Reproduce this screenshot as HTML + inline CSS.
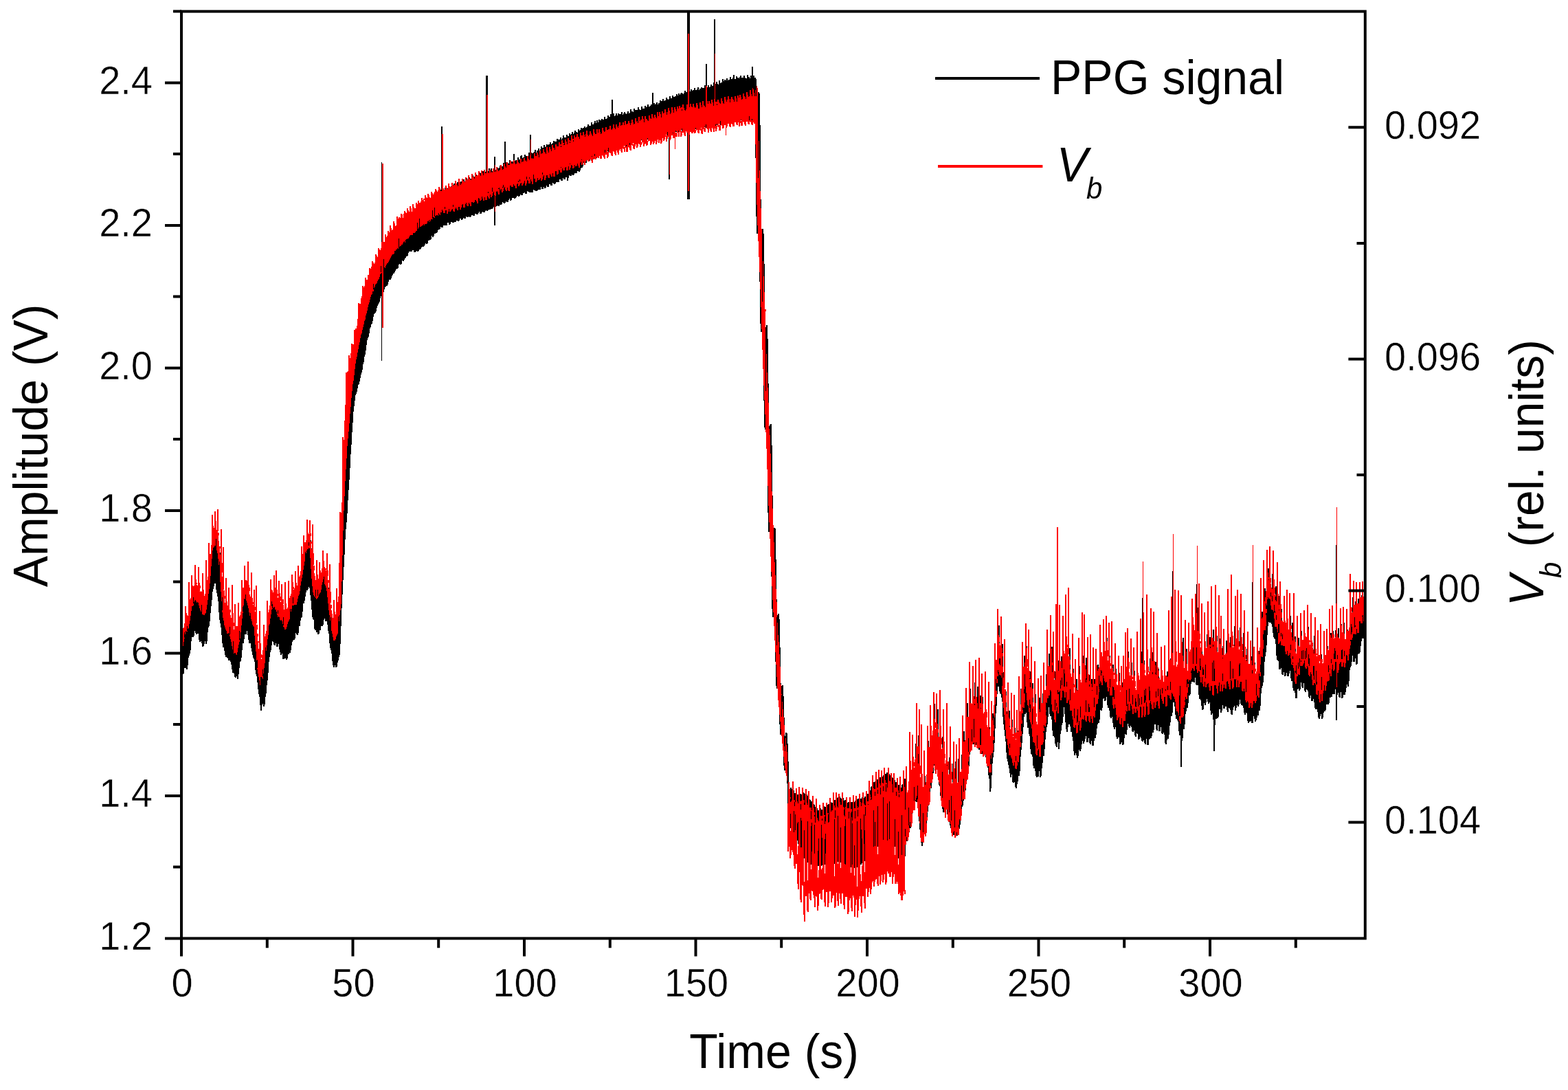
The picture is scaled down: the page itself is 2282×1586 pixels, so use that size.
<!DOCTYPE html>
<html><head><meta charset="utf-8"><title>PPG signal and V_b vs time</title>
<style>
html,body{margin:0;padding:0;background:#fff;overflow:hidden;}
svg{display:block;}
text{font-family:"Liberation Sans",Arial,sans-serif;fill:#000;}
.tl text{stroke:#fff;stroke-width:0.45px;paint-order:fill stroke;}
</style></head><body>
<svg width="2282" height="1586" viewBox="0 0 2282 1586">
<rect width="2282" height="1586" fill="#fff"/>
<g shape-rendering="crispEdges" fill="none">
<path d="M265.0 929.5V975.6M266.0 928.1V980.6M267.0 922.8V979.7M268.0 917.0V971.2M269.0 911.5V972.0M270.0 906.2V972.0M271.0 905.6V972.0M272.0 904.4V973.7M273.0 903.5V968.2M274.0 902.1V956.9M275.0 895.0V953.8M276.0 888.0V951.0M277.0 881.1V946.0M278.0 876.2V933.4M279.0 867.9V927.2M280.0 865.5V924.9M281.0 864.4V926.5M282.0 862.3V924.7M283.0 859.1V918.4M284.0 856.7V915.0M285.0 856.0V921.2M286.0 857.4V923.1M287.0 857.5V922.1M288.0 858.9V919.5M289.0 860.2V921.6M290.0 862.0V931.3M291.0 863.7V933.8M292.0 866.2V932.4M293.0 869.1V933.0M294.0 871.3V935.5M295.0 873.7V941.1M296.0 873.7V939.6M297.0 874.3V936.6M298.0 873.8V932.0M299.0 874.2V933.0M300.0 869.3V936.7M301.0 863.1V932.6M302.0 855.8V919.9M303.0 847.9V913.0M304.0 840.3V910.8M305.0 831.9V903.5M306.0 821.3V892.3M307.0 808.8V882.2M308.0 798.8V872.8M309.0 788.7V861.0M310.0 784.0V856.9M311.0 780.7V853.4M312.0 777.7V847.5M313.0 778.0V848.7M314.0 776.2V848.8M315.0 776.8V857.6M316.0 778.6V862.7M317.0 780.5V868.2M318.0 786.6V874.5M319.0 795.2V890.9M320.0 804.3V901.5M321.0 816.7V906.7M322.0 829.6V912.6M323.0 841.1V923.5M324.0 854.8V936.2M325.0 867.8V942.2M326.0 875.8V942.4M327.0 881.8V946.8M328.0 886.2V952.8M329.0 890.6V956.2M330.0 893.8V951.5M331.0 895.9V957.2M332.0 898.2V957.6M333.0 898.9V960.8M334.0 900.2V960.9M335.0 900.3V956.3M336.0 903.9V962.8M337.0 906.4V967.3M338.0 913.3V974.0M339.0 915.8V979.0M340.0 922.5V978.8M341.0 925.3V980.2M342.0 925.5V985.1M343.0 926.6V986.0M344.0 927.3V980.5M345.0 927.1V984.4M346.0 922.1V987.7M347.0 919.3V981.1M348.0 912.9V971.9M349.0 909.5V963.1M350.0 903.7V962.0M351.0 893.3V956.6M352.0 884.4V945.6M353.0 876.1V935.6M354.0 866.4V935.9M355.0 859.2V930.2M356.0 857.5V917.7M357.0 857.3V923.1M358.0 854.8V923.4M359.0 853.3V916.4M360.0 853.6V918.3M361.0 858.2V923.9M362.0 863.0V931.4M363.0 867.5V935.7M364.0 873.4V933.1M365.0 877.2V936.3M366.0 880.7V943.4M367.0 883.2V947.7M368.0 885.7V953.3M369.0 890.8V957.0M370.0 891.9V958.8M371.0 896.1V962.6M372.0 906.0V975.0M373.0 916.3V981.3M374.0 926.3V983.9M375.0 936.5V993.2M376.0 946.6V1003.2M377.0 952.0V1010.2M378.0 959.1V1013.6M379.0 964.6V1025.5M380.0 969.3V1033.9M381.0 969.8V1026.3M382.0 964.7V1023.9M383.0 958.2V1023.3M384.0 950.0V1027.6M385.0 945.6V1025.0M386.0 936.8V1014.4M387.0 930.4V1009.1M388.0 922.8V997.0M389.0 916.3V990.2M390.0 909.3V978.6M391.0 900.7V962.5M392.0 894.4V956.4M393.0 886.3V949.4M394.0 880.3V946.0M395.0 871.2V939.3M396.0 871.5V927.9M397.0 870.1V932.7M398.0 869.3V934.0M399.0 868.7V938.1M400.0 865.8V938.8M401.0 866.2V936.4M402.0 867.9V931.8M403.0 870.6V941.0M404.0 873.4V940.6M405.0 875.4V934.8M406.0 879.0V936.8M407.0 879.5V944.6M408.0 881.3V949.3M409.0 880.9V952.9M410.0 882.9V950.1M411.0 883.6V950.6M412.0 886.7V958.9M413.0 889.1V959.1M414.0 891.9V956.1M415.0 896.5V957.5M416.0 897.6V958.0M417.0 894.2V959.5M418.0 892.5V958.4M419.0 890.0V949.1M420.0 889.0V951.6M421.0 884.2V949.9M422.0 880.6V950.1M423.0 874.7V946.2M424.0 871.2V938.6M425.0 865.5V933.6M426.0 864.5V931.7M427.0 863.8V928.7M428.0 863.2V931.1M429.0 863.3V929.4M430.0 862.9V921.4M431.0 863.1V919.5M432.0 858.6V922.8M433.0 858.0V923.7M434.0 853.3V921.0M435.0 851.8V911.2M436.0 845.7V911.4M437.0 840.3V902.9M438.0 834.7V899.1M439.0 827.9V897.5M440.0 821.4V890.1M441.0 815.3V878.4M442.0 811.1V878.4M443.0 804.6V874.1M444.0 798.0V867.7M445.0 792.4V862.4M446.0 789.4V858.2M447.0 787.4V859.1M448.0 786.7V857.4M449.0 784.7V853.9M450.0 781.9V850.1M451.0 781.6V856.4M452.0 786.1V866.3M453.0 797.6V873.8M454.0 810.0V887.2M455.0 820.4V897.8M456.0 830.9V900.5M457.0 840.6V902.4M458.0 844.4V915.0M459.0 847.4V917.2M460.0 850.0V916.0M461.0 854.1V920.2M462.0 855.7V917.4M463.0 852.5V922.9M464.0 850.5V921.9M465.0 848.5V914.0M466.0 845.9V917.1M467.0 841.5V910.8M468.0 839.1V908.5M469.0 835.6V911.0M470.0 829.4V908.9M471.0 826.6V902.1M472.0 827.6V899.5M473.0 831.1V898.1M474.0 834.4V903.5M475.0 837.2V903.4M476.0 841.0V903.9M477.0 844.5V909.4M478.0 854.7V918.2M479.0 864.3V922.1M480.0 873.7V935.5M481.0 883.2V943.0M482.0 891.1V945.8M483.0 896.2V951.0M484.0 900.1V961.6M485.0 904.8V967.7M486.0 908.5V970.7M487.0 912.2V968.3M488.0 908.9V965.7M489.0 907.9V971.0M490.0 906.1V970.1M491.0 903.4V964.0M492.0 892.8V960.9M493.0 880.7V956.2M494.0 861.8V952.6M495.0 848.4V937.0M496.0 836.0V910.5M497.0 806.2V884.8M498.0 772.7V865.3M499.0 739.7V844.1M500.0 712.2V825.0M501.0 689.2V807.0M502.0 666.3V785.2M503.0 646.8V769.8M504.0 623.9V759.5M505.0 609.8V746.5M506.0 600.7V727.7M507.0 590.0V713.3M508.0 582.1V698.0M509.0 572.4V680.9M510.0 564.1V660.7M511.0 556.2V646.7M512.0 547.5V628.9M513.0 537.7V615.4M514.0 531.9V599.4M515.0 524.5V591.0M516.0 519.3V582.5M517.0 511.2V575.2M518.0 507.1V572.8M519.0 501.8V569.9M520.0 497.1V564.7M521.0 489.5V560.1M522.0 485.5V559.2M523.0 478.6V555.3M524.0 474.1V549.5M525.0 469.0V545.3M526.0 462.2V542.0M527.0 459.9V537.9M528.0 455.5V529.9M529.0 452.7V527.2M530.0 447.8V519.4M531.0 446.2V515.8M532.0 440.7V509.9M533.0 438.0V501.7M534.0 434.7V495.2M535.0 429.9V491.5M536.0 425.5V489.5M537.0 422.4V485.4M538.0 419.7V478.2M539.0 416.1V475.7M540.0 414.6V472.0M541.0 411.7V470.7M542.0 410.6V466.9M543.0 406.9V461.1M544.0 405.3V457.3M545.0 402.6V456.2M546.0 401.7V455.0M547.0 399.8V452.9M548.0 396.7V447.7M549.0 395.3V444.7M550.0 391.7V443.2M551.0 391.4V441.2M552.0 388.2V438.7M553.0 386.2V433.9M554.0 383.5V430.7M555.0 381.8V427.8M556.0 380.5V426.3M557.0 377.8V426.6M558.0 377.8V424.8M559.0 374.7V420.8M560.0 374.1V418.2M561.0 372.1V417.2M562.0 371.6V415.4M563.0 369.9V415.9M564.0 366.4V414.2M565.0 366.0V409.7M566.0 364.3V407.1M567.0 362.0V405.2M568.0 359.7V407.0M569.0 359.3V405.3M570.0 355.8V401.7M571.0 355.1V399.9M572.0 353.0V396.2M573.0 351.4V397.6M574.0 351.0V395.9M575.0 349.2V393.6M576.0 349.2V392.1M577.0 348.0V391.0M578.0 344.9V390.8M579.0 345.3V390.2M580.0 343.2V385.2M581.0 341.6V383.6M582.0 340.5V383.4M583.0 339.8V384.7M584.0 338.9V383.8M585.0 338.5V379.0M586.0 338.0V378.2M587.0 337.1V379.6M588.0 335.3V378.4M589.0 334.3V375.7M590.0 333.8V374.7M591.0 332.7V372.3M592.0 331.5V372.8M593.0 332.8V371.7M594.0 330.4V367.7M595.0 329.4V365.4M596.0 329.9V365.8M597.0 328.4V364.6M598.0 328.6V365.7M599.0 325.8V366.4M600.0 326.7V364.4M601.0 325.0V363.7M602.0 323.8V363.5M603.0 324.0V367.4M604.0 322.8V366.9M605.0 322.2V365.8M606.0 320.3V363.9M607.0 320.7V364.8M608.0 319.1V365.9M609.0 319.1V365.3M610.0 316.4V360.0M611.0 316.2V363.4M612.0 317.0V361.9M613.0 315.7V359.8M614.0 314.0V358.9M615.0 312.7V358.5M616.0 313.1V358.7M617.0 311.6V358.4M618.0 311.0V355.7M619.0 310.0V354.4M620.0 309.7V353.9M621.0 308.6V354.8M622.0 308.9V353.9M623.0 308.6V348.6M624.0 306.8V349.6M625.0 307.4V347.4M626.0 305.1V348.6M627.0 304.3V347.8M628.0 304.0V343.4M629.0 303.2V342.9M630.0 303.4V344.5M631.0 302.6V343.3M632.0 301.5V339.7M633.0 300.5V339.6M634.0 300.8V337.4M635.0 300.2V338.7M636.0 299.5V337.8M637.0 299.8V334.6M638.0 297.3V333.4M639.0 296.1V333.7M640.0 297.4V332.6M641.0 279.8V328.4M642.0 275.6V329.6M643.0 279.0V331.3M644.0 279.2V330.6M645.0 278.8V327.2M646.0 277.6V327.8M647.0 277.6V327.6M648.0 273.1V326.9M649.0 276.4V328.3M650.0 274.4V327.7M651.0 274.2V324.0M652.0 274.6V323.3M653.0 271.2V324.0M654.0 273.4V326.7M655.0 273.6V326.1M656.0 273.4V322.1M657.0 271.3V323.2M658.0 268.4V321.6M659.0 271.8V324.2M660.0 269.3V324.0M661.0 267.0V319.6M662.0 270.6V323.4M663.0 268.9V323.3M664.0 269.0V319.5M665.0 269.0V320.7M666.0 265.0V318.6M667.0 268.5V321.9M668.0 267.2V321.2M669.0 267.0V318.0M670.0 266.2V316.4M671.0 263.8V318.0M672.0 266.8V319.7M673.0 266.0V319.0M674.0 264.0V316.8M675.0 261.4V314.6M676.0 263.9V317.8M677.0 264.0V317.5M678.0 262.6V315.2M679.0 259.1V313.9M680.0 263.6V316.4M681.0 262.5V316.2M682.0 261.0V314.5M683.0 258.3V312.8M684.0 261.5V315.6M685.0 259.5V314.7M686.0 259.6V312.3M687.0 259.5V313.4M688.0 254.7V310.4M689.0 257.2V313.5M690.0 258.7V314.0M691.0 257.2V311.3M692.0 257.0V309.1M693.0 253.7V311.2M694.0 256.7V312.1M695.0 254.8V311.8M696.0 254.7V310.4M697.0 253.8V308.2M698.0 250.5V308.2M699.0 252.3V310.6M700.0 251.9V310.7M701.0 252.9V308.6M702.0 251.8V306.5M703.0 249.0V308.2M704.0 250.5V308.8M705.0 250.1V308.9M706.0 249.9V306.6M707.0 251.0V305.8M708.0 247.9V304.3M709.0 250.4V306.8M710.0 250.2V306.3M711.0 249.0V304.9M712.0 245.4V304.4M713.0 249.0V304.8M714.0 248.0V304.4M715.0 245.3V300.6M716.0 248.6V303.6M717.0 248.9V303.2M718.0 247.3V299.0M719.0 244.5V300.7M720.0 248.4V301.8M721.0 246.9V301.3M722.0 246.7V298.0M723.0 247.2V299.5M724.0 243.5V296.4M725.0 246.1V299.3M726.0 244.6V299.5M727.0 243.9V297.7M728.0 241.2V296.9M729.0 244.2V297.5M730.0 242.6V297.3M731.0 241.8V293.0M732.0 242.9V293.5M733.0 237.4V295.0M734.0 242.0V296.1M735.0 241.4V295.3M736.0 241.1V292.6M737.0 236.4V291.4M738.0 239.4V293.8M739.0 237.2V293.8M740.0 237.6V291.0M741.0 237.7V288.7M742.0 233.1V289.4M743.0 235.5V291.9M744.0 237.0V290.9M745.0 235.1V287.6M746.0 236.5V286.4M747.0 235.1V287.6M748.0 231.1V287.4M749.0 233.5V288.8M750.0 233.5V288.0M751.0 233.0V286.7M752.0 234.5V284.6M753.0 233.4V284.0M754.0 229.1V285.2M755.0 232.0V286.1M756.0 232.1V285.4M757.0 232.0V282.6M758.0 227.3V281.9M759.0 230.0V284.1M760.0 230.4V283.8M761.0 229.6V280.1M762.0 229.2V281.3M763.0 229.8V278.9M764.0 225.0V280.4M765.0 227.2V281.9M766.0 229.2V281.9M767.0 227.1V277.7M768.0 227.4V278.3M769.0 227.0V279.4M770.0 222.3V279.0M771.0 225.7V280.3M772.0 225.0V279.9M773.0 222.2V277.5M774.0 222.8V279.9M775.0 222.5V279.6M776.0 224.0V275.4M777.0 222.0V276.2M778.0 221.4V276.9M779.0 217.8V274.6M780.0 222.0V277.8M781.0 221.6V277.6M782.0 219.1V276.6M783.0 219.1V276.1M784.0 216.3V275.3M785.0 218.5V276.2M786.0 218.5V276.0M787.0 217.4V272.2M788.0 213.1V271.4M789.0 215.4V275.1M790.0 216.4V274.7M791.0 215.2V272.0M792.0 210.9V272.1M793.0 215.1V273.7M794.0 214.4V272.9M795.0 212.8V269.7M796.0 210.1V269.5M797.0 213.1V272.0M798.0 211.4V271.6M799.0 210.4V268.3M800.0 211.4V266.8M801.0 207.4V268.2M802.0 211.3V269.8M803.0 209.6V269.5M804.0 209.2V265.6M805.0 207.5V266.1M806.0 204.9V266.7M807.0 207.3V267.9M808.0 206.4V267.2M809.0 207.6V262.8M810.0 206.1V264.5M811.0 202.1V263.8M812.0 206.0V265.0M813.0 203.4V265.4M814.0 204.7V260.6M815.0 203.1V261.1M816.0 199.7V260.3M817.0 202.7V262.7M818.0 203.3V263.1M819.0 200.9V259.4M820.0 197.0V259.0M821.0 201.4V261.4M822.0 200.1V260.5M823.0 200.7V257.2M824.0 199.7V258.4M825.0 195.5V256.4M826.0 199.0V259.0M827.0 198.1V258.5M828.0 198.5V255.3M829.0 194.3V253.7M830.0 196.4V256.4M831.0 195.5V256.0M832.0 195.4V253.9M833.0 191.7V251.7M834.0 195.1V254.5M835.0 195.0V254.3M836.0 192.8V251.7M837.0 189.6V250.2M838.0 192.6V252.1M839.0 192.2V251.9M840.0 192.8V247.2M841.0 192.9V248.8M842.0 188.1V248.4M843.0 189.8V249.8M844.0 190.6V247.8M845.0 189.2V244.6M846.0 186.1V243.0M847.0 188.9V243.6M848.0 186.8V241.7M849.0 186.0V236.7M850.0 186.0V235.6M851.0 183.5V234.4M852.0 185.8V237.0M853.0 186.1V236.5M854.0 184.7V232.7M855.0 184.1V233.4M856.0 181.4V232.7M857.0 182.5V234.5M858.0 182.5V234.1M859.0 183.3V229.6M860.0 183.3V231.8M861.0 177.7V228.6M862.0 181.0V232.2M863.0 180.7V232.0M864.0 180.8V229.3M865.0 179.2V228.2M866.0 176.4V228.9M867.0 179.2V229.2M868.0 179.6V229.5M869.0 175.4V227.5M870.0 178.5V228.5M871.0 177.7V227.3M872.0 174.4V223.6M873.0 176.9V227.2M874.0 175.4V226.1M875.0 174.9V223.9M876.0 172.5V222.4M877.0 176.3V225.0M878.0 173.7V225.2M879.0 174.2V223.0M880.0 169.7V221.1M881.0 173.4V223.8M882.0 172.8V222.8M883.0 173.3V221.4M884.0 172.1V219.2M885.0 167.5V220.1M886.0 172.2V221.4M887.0 170.0V221.7M888.0 169.5V219.5M889.0 166.3V219.3M890.0 170.4V220.0M891.0 170.6V219.9M892.0 170.3V215.5M893.0 164.9V216.7M894.0 169.0V218.3M895.0 169.7V218.1M896.0 167.8V216.8M897.0 165.2V214.2M898.0 167.7V217.4M899.0 168.8V217.0M900.0 165.1V213.5M901.0 168.8V216.1M902.0 166.3V216.1M903.0 166.7V211.5M904.0 166.2V213.2M905.0 162.6V212.8M906.0 167.4V214.6M907.0 167.0V213.7M908.0 165.2V211.9M909.0 162.9V212.3M910.0 164.6V212.7M911.0 166.7V212.8M912.0 166.2V210.7M913.0 164.6V209.0M914.0 162.0V208.8M915.0 164.5V211.1M916.0 164.8V211.4M917.0 163.9V208.4M918.0 159.4V207.9M919.0 163.0V210.7M920.0 161.9V210.3M921.0 163.6V205.9M922.0 162.6V205.7M923.0 157.9V206.2M924.0 161.0V209.1M925.0 160.1V208.1M926.0 160.5V204.2M927.0 159.5V205.3M928.0 161.5V206.4M929.0 156.0V204.0M930.0 159.2V206.6M931.0 160.2V207.0M932.0 160.2V204.7M933.0 159.8V202.7M934.0 154.7V203.5M935.0 157.8V206.2M936.0 157.8V206.0M937.0 157.8V202.7M938.0 158.0V203.1M939.0 154.1V201.8M940.0 156.4V205.3M941.0 157.4V205.0M942.0 155.1V202.7M943.0 151.8V201.0M944.0 154.6V204.0M945.0 156.2V203.5M946.0 155.1V200.0M947.0 154.3V202.4M948.0 151.5V201.5M949.0 152.9V202.7M950.0 155.0V202.6M951.0 153.5V200.4M952.0 149.9V199.7M953.0 151.7V201.9M954.0 151.9V201.6M955.0 150.9V199.7M956.0 148.8V197.9M957.0 151.5V200.9M958.0 151.9V200.6M959.0 149.8V198.8M960.0 149.7V196.3M961.0 145.9V196.2M962.0 149.7V199.8M963.0 147.4V199.6M964.0 148.3V197.1M965.0 144.3V195.9M966.0 147.2V198.3M967.0 147.6V197.8M968.0 145.7V195.9M969.0 145.5V194.6M970.0 141.9V194.7M971.0 144.3V196.9M972.0 144.5V196.6M973.0 145.8V192.3M974.0 144.4V192.7M975.0 139.7V192.9M976.0 143.8V195.1M977.0 142.9V195.1M978.0 143.6V193.3M979.0 139.0V191.3M980.0 142.8V193.8M981.0 141.2V193.5M982.0 141.6V190.7M983.0 139.8V190.7M984.0 140.5V191.5M985.0 137.2V190.2M986.0 138.8V192.6M987.0 138.9V192.4M988.0 136.1V189.6M989.0 137.7V191.8M990.0 137.7V191.1M991.0 136.4V188.9M992.0 134.8V187.8M993.0 135.9V190.8M994.0 137.7V190.3M995.0 136.5V188.7M996.0 134.8V188.9M997.0 132.2V187.9M998.0 134.8V189.6M999.0 133.9V190.3M1000.0 133.8V188.7M1001.0 134.5V187.4M1002.0 130.3V185.6M1003.0 134.5V189.8M1004.0 132.6V189.0M1005.0 134.2V188.0M1006.0 130.0V186.3M1007.0 133.4V188.9M1008.0 131.9V188.7M1009.0 130.9V185.0M1010.0 130.7V185.7M1011.0 128.2V185.7M1012.0 132.3V188.4M1013.0 131.0V188.3M1014.0 130.5V186.8M1015.0 129.7V186.2M1016.0 127.3V185.5M1017.0 130.7V187.8M1018.0 130.9V187.3M1019.0 129.2V186.0M1020.0 130.3V185.5M1021.0 126.8V185.4M1022.0 130.0V186.5M1023.0 128.2V186.5M1024.0 129.2V184.6M1025.0 127.9V184.5M1026.0 124.2V181.9M1027.0 127.5V185.6M1028.0 127.2V185.7M1029.0 128.8V183.6M1030.0 126.6V181.5M1031.0 124.0V182.5M1032.0 128.2V184.8M1033.0 127.4V184.5M1034.0 126.2V181.0M1035.0 122.8V182.9M1036.0 125.0V183.5M1037.0 124.7V183.6M1038.0 125.0V180.0M1039.0 120.2V180.2M1040.0 123.6V183.3M1041.0 122.5V182.6M1042.0 122.1V180.5M1043.0 118.8V180.6M1044.0 122.3V182.0M1045.0 122.5V182.2M1046.0 122.5V178.2M1047.0 117.0V180.0M1048.0 120.5V181.0M1049.0 120.6V181.5M1050.0 119.8V178.9M1051.0 119.7V178.9M1052.0 115.4V178.1M1053.0 118.8V180.9M1054.0 117.8V180.3M1055.0 115.8V178.5M1056.0 117.4V179.1M1057.0 117.5V178.6M1058.0 113.9V175.8M1059.0 117.8V178.4M1060.0 116.5V178.0M1061.0 116.4V175.7M1062.0 116.7V175.7M1063.0 111.8V175.9M1064.0 114.9V177.2M1065.0 116.2V177.1M1066.0 114.5V175.5M1067.0 112.8V174.6M1068.0 113.7V176.5M1069.0 115.5V176.1M1070.0 115.4V175.3M1071.0 114.8V173.5M1072.0 110.7V174.8M1073.0 113.0V175.8M1074.0 113.3V175.8M1075.0 113.7V172.6M1076.0 113.9V173.5M1077.0 112.4V173.0M1078.0 109.7V172.2M1079.0 113.3V175.3M1080.0 113.7V175.2M1081.0 113.0V171.8M1082.0 113.7V171.8M1083.0 110.2V171.7M1084.0 113.1V175.1M1085.0 113.6V174.7M1086.0 113.6V173.8M1087.0 113.7V173.3M1088.0 108.5V171.0M1089.0 112.0V174.6M1090.0 112.2V175.0M1091.0 113.5V171.2M1092.0 113.6V173.3M1093.0 110.3V173.3M1094.0 111.8V174.6M1095.0 113.9V174.3M1096.0 112.1V172.5M1097.0 110.1V170.6M1098.0 113.2V174.3M1099.0 113.1V174.8M1100.0 114.5V229.5M1101.0 125.4V315.1M1102.0 143.7V340.4M1103.0 145.0V340.2M1104.0 133.6V318.5M1105.0 136.0V346.4M1106.0 181.5V410.1M1107.0 289.5V470.6M1108.0 351.7V483.0M1109.0 338.1V479.3M1110.0 333.1V452.4M1111.0 340.3V515.0M1112.0 384.3V583.4M1113.0 455.2V621.8M1114.0 501.9V624.7M1115.0 475.5V616.7M1116.0 473.0V610.9M1117.0 493.1V673.9M1118.0 557.7V746.0M1119.0 620.1V774.2M1120.0 632.4V774.2M1121.0 617.7V759.0M1122.0 616.7V773.1M1123.0 648.2V838.8M1124.0 720.9V886.4M1125.0 782.3V898.1M1126.0 775.9V897.1M1127.0 767.6V880.7M1128.0 769.4V910.9M1129.0 813.6V963.3M1130.0 872.1V998.4M1131.0 912.7V1002.3M1132.0 895.2V998.3M1133.0 893.0V988.1M1134.0 901.4V1024.0M1135.0 942.2V1054.1M1136.0 994.2V1069.0M1137.0 1010.4V1069.3M1138.0 998.3V1064.3M1139.0 997.4V1066.0M1140.0 1012.5V1092.3M1141.0 1043.5V1114.1M1142.0 1071.6V1120.8M1143.0 1070.5V1120.7M1144.0 1065.5V1114.7M1145.0 1067.1V1122.9M1146.0 1082.2V1139.9M1147.0 1108.3V1198.7M1148.0 1148.3V1199.1M1149.0 1147.6V1199.4M1150.0 1148.5V1203.3M1151.0 1146.2V1204.8M1152.0 1147.8V1208.7M1153.0 1150.0V1210.9M1154.0 1150.0V1208.4M1155.0 1150.4V1212.5M1156.0 1153.7V1216.0M1157.0 1153.8V1218.5M1158.0 1154.9V1217.4M1159.0 1155.6V1219.5M1160.0 1158.0V1218.7M1161.0 1156.2V1222.8M1162.0 1157.4V1227.9M1163.0 1158.2V1231.0M1164.0 1155.9V1231.3M1165.0 1154.8V1233.2M1166.0 1155.5V1237.9M1167.0 1156.1V1240.0M1168.0 1156.2V1238.2M1169.0 1153.2V1239.9M1170.0 1154.0V1248.1M1171.0 1155.3V1248.8M1172.0 1154.9V1248.2M1173.0 1156.0V1246.3M1174.0 1156.0V1248.3M1175.0 1158.1V1253.5M1176.0 1161.4V1254.6M1177.0 1160.0V1254.2M1178.0 1163.4V1256.6M1179.0 1163.9V1258.2M1180.0 1167.3V1257.7M1181.0 1166.2V1257.5M1182.0 1168.1V1259.2M1183.0 1171.2V1259.4M1184.0 1170.0V1257.6M1185.0 1170.7V1256.0M1186.0 1174.3V1259.3M1187.0 1175.0V1260.0M1188.0 1175.5V1254.8M1189.0 1175.8V1257.4M1190.0 1178.8V1259.3M1191.0 1178.7V1259.6M1192.0 1179.8V1256.6M1193.0 1178.5V1256.7M1194.0 1176.4V1254.3M1195.0 1177.9V1259.6M1196.0 1177.6V1259.1M1197.0 1177.5V1255.6M1198.0 1176.1V1254.9M1199.0 1173.4V1254.4M1200.0 1174.8V1258.3M1201.0 1174.3V1258.0M1202.0 1174.5V1255.1M1203.0 1172.9V1253.8M1204.0 1170.8V1253.5M1205.0 1172.2V1258.0M1206.0 1170.2V1258.7M1207.0 1169.6V1253.7M1208.0 1168.8V1255.9M1209.0 1167.1V1255.1M1210.0 1167.5V1257.6M1211.0 1169.0V1258.7M1212.0 1167.5V1253.0M1213.0 1165.0V1254.2M1214.0 1165.4V1256.5M1215.0 1163.8V1257.1M1216.0 1163.9V1252.8M1217.0 1163.0V1251.8M1218.0 1160.7V1250.7M1219.0 1161.5V1254.0M1220.0 1159.8V1253.9M1221.0 1159.5V1249.7M1222.0 1159.1V1251.6M1223.0 1160.7V1254.8M1224.0 1161.9V1255.0M1225.0 1162.3V1251.3M1226.0 1163.0V1253.4M1227.0 1161.4V1253.6M1228.0 1165.2V1258.8M1229.0 1165.3V1259.1M1230.0 1164.1V1257.6M1231.0 1165.7V1258.8M1232.0 1164.8V1258.0M1233.0 1167.6V1261.4M1234.0 1167.9V1261.6M1235.0 1166.6V1256.6M1236.0 1166.8V1256.8M1237.0 1165.4V1258.1M1238.0 1168.2V1261.7M1239.0 1166.7V1262.2M1240.0 1168.9V1259.9M1241.0 1166.7V1257.5M1242.0 1168.0V1262.3M1243.0 1167.4V1263.1M1244.0 1167.5V1260.4M1245.0 1164.5V1259.3M1246.0 1165.0V1263.0M1247.0 1165.7V1262.2M1248.0 1163.2V1257.4M1249.0 1162.1V1257.4M1250.0 1163.2V1262.6M1251.0 1162.9V1262.2M1252.0 1161.9V1257.8M1253.0 1162.8V1258.4M1254.0 1162.3V1256.4M1255.0 1159.5V1255.3M1256.0 1160.4V1257.4M1257.0 1161.5V1257.1M1258.0 1161.0V1253.1M1259.0 1158.5V1249.6M1260.0 1159.3V1252.6M1261.0 1160.1V1252.1M1262.0 1157.7V1245.1M1263.0 1155.1V1246.7M1264.0 1155.3V1248.5M1265.0 1153.8V1246.6M1266.0 1149.6V1241.8M1267.0 1149.5V1240.6M1268.0 1145.0V1240.1M1269.0 1143.8V1242.3M1270.0 1143.2V1240.2M1271.0 1139.7V1236.2M1272.0 1137.7V1235.8M1273.0 1138.8V1237.4M1274.0 1136.8V1235.7M1275.0 1136.6V1231.0M1276.0 1136.6V1229.3M1277.0 1133.9V1229.8M1278.0 1133.6V1231.8M1279.0 1133.8V1231.0M1280.0 1134.0V1226.2M1281.0 1130.7V1226.6M1282.0 1132.4V1228.6M1283.0 1131.3V1228.0M1284.0 1130.8V1223.2M1285.0 1130.2V1222.8M1286.0 1128.4V1222.8M1287.0 1126.8V1223.5M1288.0 1128.9V1226.9M1289.0 1126.3V1226.6M1290.0 1126.4V1224.9M1291.0 1124.2V1223.8M1292.0 1125.1V1226.2M1293.0 1126.9V1227.4M1294.0 1126.4V1222.1M1295.0 1129.7V1222.4M1296.0 1127.7V1226.0M1297.0 1131.6V1228.1M1298.0 1131.3V1228.5M1299.0 1132.0V1226.9M1300.0 1131.8V1227.0M1301.0 1135.8V1229.4M1302.0 1134.9V1231.0M1303.0 1137.8V1231.5M1304.0 1138.4V1232.0M1305.0 1139.6V1237.3M1306.0 1138.6V1239.9M1307.0 1142.4V1245.9M1308.0 1141.5V1248.9M1309.0 1143.1V1246.3M1310.0 1143.7V1252.9M1311.0 1146.4V1257.3M1312.0 1146.4V1258.8M1313.0 1142.3V1257.0M1314.0 1141.2V1256.7M1315.0 1138.2V1255.2M1316.0 1135.9V1248.1M1317.0 1132.5V1246.2M1318.0 1160.0V1216.8M1319.0 1184.5V1224.2M1320.0 1180.7V1224.1M1321.0 1171.5V1217.9M1322.0 1160.9V1214.0M1323.0 1149.4V1211.1M1324.0 1104.7V1200.0M1325.0 1141.2V1205.1M1326.0 1137.9V1198.9M1327.0 1135.3V1184.9M1328.0 1133.3V1177.7M1329.0 1102.3V1174.1M1330.0 1126.8V1177.9M1331.0 1123.2V1172.9M1332.0 1120.5V1166.3M1333.0 1082.1V1164.2M1334.0 1113.5V1166.9M1335.0 1108.5V1164.6M1336.0 1110.5V1165.1M1337.0 1069.5V1178.6M1338.0 1127.8V1195.1M1339.0 1139.9V1206.6M1340.0 1150.7V1214.1M1341.0 1112.6V1225.8M1342.0 1170.2V1231.1M1343.0 1166.1V1226.3M1344.0 1164.7V1214.9M1345.0 1163.1V1210.1M1346.0 1128.8V1205.6M1347.0 1158.5V1211.8M1348.0 1147.8V1206.0M1349.0 1139.3V1188.7M1350.0 1131.1V1180.6M1351.0 1078.1V1171.7M1352.0 1111.6V1170.2M1353.0 1101.1V1162.0M1354.0 1052.0V1144.6M1355.0 1090.5V1146.5M1356.0 1084.6V1139.2M1357.0 1081.3V1129.4M1358.0 1074.3V1124.5M1359.0 1069.9V1114.4M1360.0 1024.3V1108.4M1361.0 1071.3V1120.6M1362.0 1071.1V1121.1M1363.0 1073.5V1113.6M1364.0 1074.9V1120.1M1365.0 1031.9V1117.8M1366.0 1080.1V1134.2M1367.0 1084.8V1141.8M1368.0 1049.2V1144.3M1369.0 1093.9V1158.1M1370.0 1097.2V1164.9M1371.0 1103.3V1162.9M1372.0 1071.6V1177.1M1373.0 1111.1V1181.9M1374.0 1114.7V1182.4M1375.0 1117.0V1177.3M1376.0 1121.6V1175.4M1377.0 1124.5V1175.1M1378.0 1089.2V1173.7M1379.0 1130.0V1185.1M1380.0 1132.9V1187.5M1381.0 1135.1V1182.8M1382.0 1102.0V1192.4M1383.0 1142.6V1200.8M1384.0 1145.1V1204.5M1385.0 1147.8V1200.6M1386.0 1150.4V1203.7M1387.0 1110.7V1207.6M1388.0 1154.7V1214.8M1389.0 1157.3V1215.2M1390.0 1155.6V1208.8M1391.0 1107.6V1207.9M1392.0 1157.1V1214.0M1393.0 1159.4V1216.3M1394.0 1159.8V1211.9M1395.0 1103.7V1204.4M1396.0 1148.2V1206.2M1397.0 1144.6V1199.9M1398.0 1139.8V1187.9M1399.0 1134.6V1178.9M1400.0 1098.3V1173.5M1401.0 1120.1V1171.7M1402.0 1113.2V1165.0M1403.0 1063.8V1156.7M1404.0 1095.1V1155.1M1405.0 1085.5V1150.3M1406.0 1077.2V1140.0M1407.0 1071.7V1132.0M1408.0 1023.2V1125.4M1409.0 1060.9V1122.6M1410.0 1054.5V1115.3M1411.0 1046.5V1097.5M1412.0 1002.1V1091.1M1413.0 1041.9V1092.2M1414.0 1040.2V1088.2M1415.0 1038.9V1076.9M1416.0 1007.2V1079.8M1417.0 1035.4V1083.1M1418.0 1034.4V1080.5M1419.0 992.9V1077.3M1420.0 1034.3V1083.1M1421.0 1036.7V1084.2M1422.0 1036.7V1076.8M1423.0 999.1V1079.1M1424.0 1039.0V1088.8M1425.0 1039.5V1090.6M1426.0 1041.4V1085.8M1427.0 1012.3V1089.3M1428.0 1042.1V1094.2M1429.0 1044.8V1096.9M1430.0 1013.5V1089.5M1431.0 1046.5V1098.6M1432.0 1048.4V1099.8M1433.0 1049.5V1095.1M1434.0 1018.2V1092.9M1435.0 1054.5V1102.3M1436.0 1056.2V1107.8M1437.0 1061.8V1110.0M1438.0 1068.7V1116.8M1439.0 1074.8V1127.6M1440.0 1057.7V1132.8M1441.0 1090.1V1152.1M1442.0 1081.4V1146.8M1443.0 1073.6V1127.8M1444.0 1066.6V1110.9M1445.0 1038.3V1102.0M1446.0 1047.6V1093.7M1447.0 1030.5V1081.0M1448.0 1009.5V1060.0M1449.0 978.9V1037.9M1450.0 972.5V1027.2M1451.0 962.3V1010.4M1452.0 952.2V998.5M1453.0 943.9V998.7M1454.0 909.8V994.3M1455.0 941.9V1005.5M1456.0 947.7V1008.5M1457.0 951.1V1009.5M1458.0 954.5V1014.6M1459.0 936.9V1020.5M1460.0 977.8V1043.0M1461.0 992.4V1053.9M1462.0 1005.6V1061.8M1463.0 1020.6V1071.0M1464.0 1005.8V1079.0M1465.0 1034.9V1095.4M1466.0 1041.9V1104.1M1467.0 1051.1V1107.5M1468.0 1058.5V1112.7M1469.0 1033.6V1118.2M1470.0 1064.5V1125.3M1471.0 1068.1V1130.8M1472.0 1071.6V1125.6M1473.0 1046.8V1126.9M1474.0 1076.4V1137.7M1475.0 1077.2V1139.0M1476.0 1080.3V1131.8M1477.0 1059.2V1138.4M1478.0 1081.5V1145.4M1479.0 1083.8V1146.5M1480.0 1083.7V1141.2M1481.0 1079.9V1137.4M1482.0 1063.2V1127.2M1483.0 1078.7V1129.4M1484.0 1060.5V1122.1M1485.0 1043.9V1100.8M1486.0 1002.4V1091.2M1487.0 1009.8V1081.2M1488.0 1002.0V1068.4M1489.0 994.8V1057.8M1490.0 984.4V1043.3M1491.0 954.1V1036.5M1492.0 968.0V1038.7M1493.0 965.3V1037.0M1494.0 940.3V1034.8M1495.0 976.5V1050.6M1496.0 984.1V1059.4M1497.0 989.1V1056.2M1498.0 994.4V1068.2M1499.0 977.0V1071.1M1500.0 1007.7V1089.7M1501.0 1012.6V1096.8M1502.0 1017.4V1097.6M1503.0 993.5V1101.4M1504.0 1030.0V1114.3M1505.0 1035.4V1117.8M1506.0 1040.3V1112.4M1507.0 1010.0V1121.7M1508.0 1050.4V1128.7M1509.0 1057.0V1130.7M1510.0 1063.6V1129.2M1511.0 1060.3V1129.8M1512.0 1057.2V1121.0M1513.0 1015.1V1122.4M1514.0 1051.1V1130.9M1515.0 1046.8V1128.8M1516.0 1043.0V1118.2M1517.0 1039.0V1110.2M1518.0 1008.5V1099.3M1519.0 1028.6V1099.9M1520.0 1025.3V1090.4M1521.0 1020.4V1076.1M1522.0 1013.0V1064.7M1523.0 980.6V1058.1M1524.0 990.8V1053.5M1525.0 980.2V1043.0M1526.0 975.3V1027.2M1527.0 951.1V1029.2M1528.0 974.0V1039.3M1529.0 972.0V1042.4M1530.0 972.8V1038.3M1531.0 940.7V1047.2M1532.0 982.5V1063.0M1533.0 988.7V1071.0M1534.0 995.5V1068.5M1535.0 1000.8V1072.9M1536.0 977.0V1081.6M1537.0 995.4V1084.7M1538.0 990.9V1086.5M1539.0 988.4V1080.4M1540.0 961.0V1079.1M1541.0 981.5V1089.8M1542.0 982.7V1080.7M1543.0 979.3V1067.7M1544.0 979.3V1062.9M1545.0 954.5V1055.2M1546.0 976.2V1052.1M1547.0 975.5V1042.9M1548.0 973.5V1027.7M1549.0 970.9V1028.7M1550.0 965.1V1039.0M1551.0 925.7V1050.8M1552.0 958.1V1061.3M1553.0 956.0V1065.4M1554.0 957.0V1058.3M1555.0 965.5V1053.5M1556.0 970.3V1054.0M1557.0 942.9V1049.1M1558.0 985.5V1057.2M1559.0 989.7V1064.8M1560.0 994.5V1064.2M1561.0 999.0V1072.3M1562.0 973.0V1078.3M1563.0 1007.5V1092.6M1564.0 1012.4V1098.9M1565.0 1019.4V1095.4M1566.0 1022.0V1096.2M1567.0 988.1V1099.2M1568.0 1018.8V1102.7M1569.0 1014.9V1100.0M1570.0 1012.5V1090.5M1571.0 969.0V1090.6M1572.0 1008.0V1093.0M1573.0 1007.2V1090.1M1574.0 1003.7V1082.9M1575.0 1001.5V1077.5M1576.0 954.3V1075.4M1577.0 998.3V1081.9M1578.0 995.9V1079.0M1579.0 996.9V1074.5M1580.0 998.0V1071.4M1581.0 956.8V1070.2M1582.0 999.9V1079.5M1583.0 1003.1V1080.2M1584.0 1002.6V1070.1M1585.0 982.4V1073.9M1586.0 1005.9V1080.9M1587.0 1007.8V1083.4M1588.0 1010.0V1078.3M1589.0 987.6V1073.0M1590.0 1011.9V1085.0M1591.0 1012.3V1084.9M1592.0 1009.1V1078.2M1593.0 988.1V1074.1M1594.0 998.9V1074.0M1595.0 994.3V1068.8M1596.0 990.7V1060.1M1597.0 986.0V1053.8M1598.0 966.9V1045.0M1599.0 978.9V1051.9M1600.0 973.4V1047.0M1601.0 970.0V1033.2M1602.0 949.8V1029.5M1603.0 959.7V1034.2M1604.0 960.3V1029.7M1605.0 958.9V1017.3M1606.0 959.8V1015.9M1607.0 940.8V1015.9M1608.0 956.8V1020.1M1609.0 957.7V1019.1M1610.0 956.8V1010.8M1611.0 927.9V1013.7M1612.0 963.4V1025.9M1613.0 964.3V1029.9M1614.0 969.7V1024.0M1615.0 953.6V1034.4M1616.0 974.9V1042.8M1617.0 977.3V1045.1M1618.0 980.1V1042.4M1619.0 984.0V1042.9M1620.0 966.6V1051.8M1621.0 988.4V1057.5M1622.0 990.8V1060.9M1623.0 993.9V1054.9M1624.0 973.0V1058.0M1625.0 1000.2V1072.3M1626.0 1002.0V1074.9M1627.0 1005.1V1070.6M1628.0 1007.3V1073.4M1629.0 978.8V1072.1M1630.0 1013.4V1083.0M1631.0 1014.2V1082.4M1632.0 1017.2V1074.2M1633.0 992.5V1080.0M1634.0 1021.0V1084.1M1635.0 1022.1V1083.1M1636.0 1015.2V1074.4M1637.0 1007.3V1067.5M1638.0 975.4V1064.5M1639.0 994.1V1068.7M1640.0 988.1V1062.3M1641.0 981.0V1053.0M1642.0 947.5V1050.1M1643.0 983.7V1057.1M1644.0 985.3V1059.3M1645.0 988.8V1055.9M1646.0 991.9V1051.7M1647.0 963.6V1058.4M1648.0 996.1V1064.0M1649.0 997.9V1064.9M1650.0 999.9V1059.4M1651.0 975.7V1063.4M1652.0 1004.1V1069.5M1653.0 1007.0V1072.1M1654.0 1009.6V1065.9M1655.0 1007.3V1066.5M1656.0 984.1V1068.1M1657.0 1002.6V1075.6M1658.0 999.8V1074.6M1659.0 999.3V1071.6M1660.0 996.1V1066.6M1661.0 948.3V1073.9M1662.0 992.1V1077.5M1663.0 989.7V1078.6M1664.0 990.2V1072.2M1665.0 961.4V1076.9M1666.0 989.5V1080.8M1667.0 989.7V1082.6M1668.0 987.7V1072.1M1669.0 957.9V1074.7M1670.0 988.8V1083.5M1671.0 986.2V1083.5M1672.0 988.4V1075.9M1673.0 986.6V1075.0M1674.0 958.3V1073.7M1675.0 986.8V1073.8M1676.0 986.8V1070.6M1677.0 949.2V1064.5M1678.0 985.4V1065.8M1679.0 986.8V1061.6M1680.0 985.9V1049.7M1681.0 987.2V1053.7M1682.0 962.5V1051.8M1683.0 987.5V1061.3M1684.0 988.8V1062.5M1685.0 990.5V1053.6M1686.0 973.2V1055.4M1687.0 991.4V1064.0M1688.0 991.4V1064.2M1689.0 993.7V1058.1M1690.0 977.8V1055.6M1691.0 994.7V1067.3M1692.0 994.5V1068.1M1693.0 994.7V1065.9M1694.0 993.9V1064.2M1695.0 979.9V1068.9M1696.0 992.9V1081.0M1697.0 992.0V1082.6M1698.0 990.9V1076.6M1699.0 976.8V1073.9M1700.0 987.9V1074.8M1701.0 985.6V1069.0M1702.0 984.3V1055.7M1703.0 980.8V1051.3M1704.0 958.0V1039.9M1705.0 976.7V1041.9M1706.0 976.8V1036.7M1707.0 974.7V1021.1M1708.0 974.2V1022.1M1709.0 973.7V1021.4M1710.0 929.8V1027.9M1711.0 975.8V1040.0M1712.0 976.2V1045.9M1713.0 975.8V1043.5M1714.0 977.0V1047.8M1715.0 941.7V1050.4M1716.0 978.2V1063.6M1717.0 980.6V1070.0M1718.0 980.6V1069.6M1719.0 909.2V1072.3M1720.0 980.9V1077.9M1721.0 979.4V1073.5M1722.0 928.2V1057.7M1723.0 978.4V1060.5M1724.0 978.4V1053.8M1725.0 979.4V1039.0M1726.0 978.5V1035.3M1727.0 943.7V1027.5M1728.0 978.6V1030.4M1729.0 978.3V1022.6M1730.0 959.9V1010.3M1731.0 963.9V1011.9M1732.0 955.8V1010.2M1733.0 948.0V994.5M1734.0 940.8V991.6M1735.0 932.4V992.1M1736.0 900.4V986.7M1737.0 927.0V991.6M1738.0 927.6V992.5M1739.0 925.4V984.1M1740.0 882.3V986.0M1741.0 924.2V995.5M1742.0 923.1V996.7M1743.0 924.9V994.0M1744.0 884.0V997.4M1745.0 935.0V1011.1M1746.0 938.3V1016.6M1747.0 944.5V1011.9M1748.0 949.0V1018.9M1749.0 938.8V1026.6M1750.0 960.3V1032.9M1751.0 960.3V1031.8M1752.0 957.8V1023.3M1753.0 936.0V1018.7M1754.0 958.1V1026.4M1755.0 956.0V1022.1M1756.0 955.3V1016.7M1757.0 923.1V1010.3M1758.0 953.1V1020.5M1759.0 953.1V1024.4M1760.0 952.5V1020.2M1761.0 926.9V1021.8M1762.0 951.5V1034.3M1763.0 949.7V1040.0M1764.0 949.0V1038.0M1765.0 949.6V1036.0M1766.0 916.3V1046.7M1767.0 947.6V1055.1M1768.0 947.6V1054.8M1769.0 949.2V1045.6M1770.0 950.2V1045.6M1771.0 924.5V1039.7M1772.0 955.0V1044.9M1773.0 956.7V1043.3M1774.0 956.7V1032.4M1775.0 958.4V1031.8M1776.0 929.4V1030.9M1777.0 962.7V1036.8M1778.0 964.4V1033.8M1779.0 963.9V1025.3M1780.0 940.1V1026.2M1781.0 964.2V1031.0M1782.0 964.8V1031.2M1783.0 962.5V1024.6M1784.0 961.0V1027.8M1785.0 932.0V1025.1M1786.0 958.2V1033.0M1787.0 957.5V1035.5M1788.0 956.5V1029.6M1789.0 955.1V1027.1M1790.0 952.3V1030.8M1791.0 926.5V1033.2M1792.0 950.1V1039.0M1793.0 949.4V1039.8M1794.0 949.7V1032.9M1795.0 950.7V1028.8M1796.0 950.1V1027.4M1797.0 911.0V1027.4M1798.0 950.1V1033.5M1799.0 950.1V1030.3M1800.0 951.1V1025.5M1801.0 907.9V1020.0M1802.0 951.8V1027.8M1803.0 950.9V1025.2M1804.0 949.6V1018.2M1805.0 912.6V1013.3M1806.0 949.9V1023.9M1807.0 952.3V1025.8M1808.0 954.9V1019.2M1809.0 958.8V1026.9M1810.0 921.0V1030.0M1811.0 964.7V1037.1M1812.0 966.6V1040.1M1813.0 968.8V1036.8M1814.0 973.1V1035.7M1815.0 943.5V1037.9M1816.0 976.3V1049.3M1817.0 979.7V1052.3M1818.0 981.8V1045.3M1819.0 984.5V1049.7M1820.0 983.8V1044.6M1821.0 954.9V1049.1M1822.0 984.4V1052.1M1823.0 985.5V1051.6M1824.0 985.6V1041.7M1825.0 984.8V1041.9M1826.0 964.0V1046.0M1827.0 985.1V1049.6M1828.0 984.4V1047.6M1829.0 986.0V1044.1M1830.0 985.8V1038.5M1831.0 978.1V1041.0M1832.0 946.6V1031.8M1833.0 956.2V1033.7M1834.0 945.7V1026.6M1835.0 933.2V1009.0M1836.0 923.1V1000.5M1837.0 890.1V998.2M1838.0 904.6V993.2M1839.0 898.2V982.5M1840.0 889.0V963.2M1841.0 856.1V954.6M1842.0 874.3V948.6M1843.0 865.8V938.5M1844.0 857.6V924.3M1845.0 849.3V910.9M1846.0 826.9V895.8M1847.0 845.1V904.5M1848.0 849.0V905.8M1849.0 851.9V905.6M1850.0 854.5V903.1M1851.0 857.4V907.7M1852.0 834.8V911.5M1853.0 863.2V921.3M1854.0 865.0V927.0M1855.0 868.1V928.7M1856.0 872.3V929.9M1857.0 852.7V937.0M1858.0 882.5V953.8M1859.0 886.7V960.2M1860.0 888.9V960.7M1861.0 867.3V961.5M1862.0 898.3V973.9M1863.0 900.7V974.4M1864.0 903.7V968.3M1865.0 886.1V971.5M1866.0 908.6V980.9M1867.0 911.2V981.5M1868.0 911.6V973.2M1869.0 892.6V978.3M1870.0 916.0V984.0M1871.0 916.4V983.0M1872.0 918.2V979.2M1873.0 901.5V979.2M1874.0 919.5V984.4M1875.0 919.1V984.4M1876.0 919.5V979.9M1877.0 919.8V974.2M1878.0 895.5V975.6M1879.0 921.4V986.9M1880.0 924.3V991.1M1881.0 905.8V990.1M1882.0 934.7V1000.6M1883.0 940.9V1004.6M1884.0 944.5V1004.7M1885.0 926.3V1008.4M1886.0 955.7V1015.8M1887.0 958.1V1016.3M1888.0 954.5V1003.0M1889.0 952.2V1002.0M1890.0 928.0V997.8M1891.0 946.7V1004.8M1892.0 945.1V1002.9M1893.0 943.1V993.4M1894.0 917.5V990.7M1895.0 939.6V998.6M1896.0 938.4V1000.7M1897.0 936.7V993.3M1898.0 919.6V993.5M1899.0 934.9V1005.0M1900.0 934.2V1006.7M1901.0 935.6V1001.9M1902.0 933.5V1002.5M1903.0 937.3V1003.7M1904.0 911.5V1005.7M1905.0 939.4V1013.9M1906.0 942.4V1016.2M1907.0 942.9V1006.8M1908.0 920.7V1011.6M1909.0 946.7V1019.6M1910.0 949.7V1019.9M1911.0 951.2V1013.6M1912.0 952.4V1016.5M1913.0 924.8V1021.9M1914.0 957.4V1029.8M1915.0 959.6V1032.1M1916.0 962.6V1031.0M1917.0 964.8V1032.0M1918.0 931.7V1036.4M1919.0 968.9V1044.1M1920.0 970.4V1046.1M1921.0 974.7V1042.1M1922.0 975.1V1039.0M1923.0 951.8V1039.2M1924.0 972.2V1045.8M1925.0 970.6V1043.7M1926.0 970.2V1036.9M1927.0 938.4V1033.2M1928.0 966.3V1035.4M1929.0 965.1V1033.4M1930.0 964.8V1021.7M1931.0 963.5V1025.1M1932.0 939.5V1020.2M1933.0 955.6V1025.1M1934.0 952.0V1022.8M1935.0 949.8V1014.6M1936.0 945.7V1014.6M1937.0 921.4V1005.6M1938.0 937.4V1014.0M1939.0 934.4V1010.2M1940.0 918.3V1006.6M1941.0 934.0V1009.6M1942.0 933.5V1010.3M1943.0 935.2V1002.9M1944.0 916.9V1002.5M1945.0 935.4V1012.1M1946.0 934.9V1011.2M1947.0 935.0V1002.0M1948.0 913.7V1007.7M1949.0 933.6V1014.3M1950.0 933.5V1015.2M1951.0 934.3V1004.5M1952.0 907.8V1007.3M1953.0 935.7V1016.3M1954.0 933.6V1015.2M1955.0 935.5V1010.8M1956.0 905.5V1009.3M1957.0 935.6V1011.2M1958.0 933.8V1006.8M1959.0 933.4V1000.7M1960.0 935.8V996.3M1961.0 916.0V992.4M1962.0 929.6V998.6M1963.0 922.9V991.3M1964.0 916.6V975.3M1965.0 879.9V970.8M1966.0 901.1V969.3M1967.0 895.5V963.1M1968.0 896.0V953.5M1969.0 868.6V950.2M1970.0 893.7V962.7M1971.0 892.5V962.8M1972.0 891.5V957.7M1973.0 875.0V956.0M1974.0 890.9V966.6M1975.0 890.0V965.8M1976.0 886.0V952.3M1977.0 870.5V946.2M1978.0 883.0V951.4M1979.0 882.9V948.7M1980.0 881.1V939.6M1981.0 878.0V933.1M1982.0 865.6V927.3M1983.0 876.0V929.1M1984.0 876.0V929.4M1985.0 875.6V917.2M1986.0 875.3V915.7" stroke="#000" stroke-width="2"/>
<g stroke="#000"><line x1="555.5" y1="235.7" x2="555.5" y2="525.0" stroke-width="1.5"/><line x1="643.4" y1="183.7" x2="643.4" y2="280.0" stroke-width="2"/><line x1="708.5" y1="110.0" x2="708.5" y2="260.0" stroke-width="2.5"/><line x1="720.0" y1="228.0" x2="720.0" y2="327.9" stroke-width="2"/><line x1="735.0" y1="205.9" x2="735.0" y2="260.0" stroke-width="2"/><line x1="748.0" y1="224.0" x2="748.0" y2="250.0" stroke-width="1.5"/><line x1="759.0" y1="226.0" x2="759.0" y2="250.0" stroke-width="1.5"/><line x1="771.8" y1="195.8" x2="771.8" y2="250.0" stroke-width="2"/><line x1="826.0" y1="220.0" x2="826.0" y2="263.4" stroke-width="1.5"/><line x1="891.3" y1="145.2" x2="891.3" y2="200.0" stroke-width="2"/><line x1="949.8" y1="135.1" x2="949.8" y2="190.0" stroke-width="2"/><line x1="974.0" y1="170.0" x2="974.0" y2="261.2" stroke-width="2"/><line x1="1001.0" y1="18.0" x2="1001.0" y2="290.4" stroke-width="3"/><line x1="1002.5" y1="18.0" x2="1002.5" y2="290.4" stroke-width="2"/><line x1="1027.5" y1="92.8" x2="1027.5" y2="170.0" stroke-width="2"/><line x1="1040.0" y1="28.2" x2="1040.0" y2="170.0" stroke-width="2"/><line x1="1068.4" y1="109.0" x2="1068.4" y2="150.0" stroke-width="2"/><line x1="1095.0" y1="96.8" x2="1095.0" y2="150.0" stroke-width="2"/><line x1="1538.6" y1="823.4" x2="1538.6" y2="1050.0" stroke-width="2"/><line x1="1662.8" y1="870.0" x2="1662.8" y2="1040.0" stroke-width="2"/><line x1="1707.2" y1="830.8" x2="1707.2" y2="1000.0" stroke-width="2"/><line x1="1741.8" y1="849.7" x2="1741.8" y2="990.0" stroke-width="2"/><line x1="1719.0" y1="1000.0" x2="1719.0" y2="1115.8" stroke-width="2"/><line x1="1767.0" y1="1000.0" x2="1767.0" y2="1093.0" stroke-width="2"/><line x1="1822.9" y1="847.0" x2="1822.9" y2="1030.0" stroke-width="2"/><line x1="1945.1" y1="793.0" x2="1945.1" y2="1047.7" stroke-width="2"/></g>
<path d="M264.5 901.3V938.4M265.5 915.5V938.2M266.5 913.7V939.5M267.5 912.5V934.2M268.5 907.2V920.0M268.5 927.7V928.6M269.5 882.2V922.7M270.5 891.5V917.9M271.5 895.2V918.9M272.5 897.1V910.5M272.5 917.5V918.6M273.5 895.8V915.3M274.5 847.4V914.4M275.5 880.5V908.3M276.5 871.8V903.0M277.5 869.6V896.4M278.5 837.0V888.5M279.5 852.1V882.0M280.5 854.8V881.6M281.5 852.6V868.7M281.5 877.6V880.5M282.5 851.5V875.9M283.5 822.1V874.2M284.5 843.1V872.9M285.5 848.0V874.9M286.5 850.5V877.0M287.5 851.5V875.9M288.5 824.8V877.2M289.5 848.3V880.5M290.5 852.1V884.6M291.5 860.6V887.6M292.5 860.2V889.9M293.5 860.7V880.4M294.5 833.6V893.9M295.5 858.1V894.1M296.5 864.3V894.6M297.5 867.0V894.9M298.5 863.6V892.6M299.5 815.0V891.6M300.5 844.1V886.6M301.5 844.0V880.4M302.5 839.0V873.1M303.5 790.4V864.0M304.5 819.5V856.6M305.5 806.3V849.0M306.5 806.1V837.5M307.5 793.3V823.8M308.5 749.4V813.0M309.5 765.0V801.4M310.5 768.1V797.4M311.5 772.6V795.8M312.5 743.6V794.0M313.5 758.1V793.5M314.5 766.9V784.1M315.5 771.4V801.0M316.5 740.6V805.0M317.5 774.9V812.7M318.5 787.2V822.3M319.5 795.0V817.0M320.5 807.2V846.8M321.5 770.2V861.2M322.5 818.5V875.3M323.5 839.1V869.1M323.5 888.4V890.8M324.5 795.6V899.1M325.5 858.6V903.2M326.5 866.9V909.7M327.5 876.8V912.7M328.5 841.2V915.6M329.5 875.0V918.2M330.5 880.8V921.5M331.5 885.7V921.7M332.5 854.7V920.9M333.5 888.0V921.9M334.5 887.3V912.0M334.5 922.7V926.2M335.5 895.0V930.2M336.5 899.4V934.2M337.5 851.3V940.0M338.5 892.4V944.6M339.5 905.8V933.2M339.5 950.6V950.9M340.5 915.9V950.9M341.5 879.1V949.5M342.5 912.3V949.9M343.5 911.2V951.9M344.5 917.0V952.6M345.5 910.9V949.1M346.5 877.0V942.9M347.5 902.7V937.6M348.5 896.7V918.3M348.5 931.3V933.6M349.5 895.1V928.6M350.5 889.5V920.4M351.5 843.5V909.7M352.5 858.3V899.9M353.5 855.0V882.9M353.5 889.7V892.1M354.5 854.6V881.3M355.5 823.3V871.2M356.5 847.6V871.8M357.5 843.5V865.2M358.5 845.5V874.0M359.5 844.7V876.7M360.5 816.7V880.8M361.5 850.9V885.2M362.5 855.0V891.1M363.5 865.1V896.2M364.5 868.4V892.2M365.5 832.6V900.6M366.5 870.3V903.6M367.5 876.0V908.8M368.5 880.4V910.5M369.5 857.7V912.0M370.5 882.8V924.5M371.5 889.9V938.0M372.5 852.3V948.2M373.5 909.2V960.6M374.5 922.4V959.9M374.5 972.1V973.9M375.5 932.6V980.0M376.5 943.8V984.6M377.5 888.5V990.2M378.5 935.7V996.7M379.5 952.4V984.7M380.5 959.2V985.0M381.5 952.6V985.7M382.5 946.2V974.0M382.5 984.1V987.5M383.5 909.2V979.6M384.5 926.2V971.5M385.5 928.6V965.2M386.5 921.9V941.7M387.5 918.4V947.2M388.5 873.5V938.9M389.5 897.2V930.4M390.5 891.3V924.0M391.5 887.2V910.0M392.5 880.7V908.1M393.5 843.0V900.4M394.5 857.8V893.6M395.5 858.7V875.1M395.5 882.0V886.9M396.5 864.2V879.2M396.5 884.7V886.1M397.5 861.6V884.4M398.5 837.2V883.9M399.5 857.6V882.9M400.5 855.1V886.7M401.5 829.7V886.8M402.5 858.2V889.9M403.5 863.6V895.0M404.5 869.9V887.9M404.5 893.3V897.5M405.5 844.7V897.2M406.5 863.0V898.3M407.5 868.4V901.9M408.5 875.9V903.0M409.5 850.2V902.1M410.5 874.2V903.8M411.5 872.2V908.3M412.5 879.8V898.3M412.5 909.8V911.8M413.5 886.6V912.9M414.5 846.5V915.7M415.5 878.3V916.2M416.5 885.5V914.8M417.5 886.4V912.1M418.5 884.3V908.2M419.5 845.3V905.3M420.5 875.5V902.7M421.5 870.4V901.2M422.5 866.9V885.6M423.5 863.8V889.8M424.5 835.6V885.9M425.5 847.2V880.9M426.5 853.7V869.4M426.5 878.0V881.2M427.5 857.9V880.9M428.5 855.6V880.1M429.5 831.3V880.0M430.5 848.3V879.9M431.5 851.2V879.8M432.5 851.9V875.6M433.5 823.3V870.6M434.5 842.1V867.0M435.5 838.5V865.1M436.5 837.2V859.6M437.5 831.2V852.1M438.5 794.9V846.4M439.5 813.1V840.7M440.5 806.0V836.2M441.5 779.2V828.6M442.5 789.7V822.6M443.5 789.1V817.2M444.5 790.0V802.8M445.5 786.3V804.5M446.5 756.0V800.6M447.5 774.8V798.7M448.5 777.8V798.5M449.5 777.3V788.8M449.5 793.8V796.9M450.5 756.6V798.2M451.5 776.1V812.3M452.5 788.4V827.6M453.5 798.7V842.0M454.5 763.0V853.0M455.5 804.5V862.1M456.5 822.8V866.0M457.5 834.0V868.0M458.5 837.6V868.3M459.5 844.0V858.4M459.5 868.0V870.0M460.5 814.6V871.7M461.5 835.5V870.8M462.5 841.5V857.8M462.5 867.2V870.1M463.5 845.4V868.1M464.5 818.2V865.0M465.5 830.2V862.5M466.5 835.7V862.1M467.5 832.6V858.2M468.5 827.4V851.0M469.5 800.6V847.3M470.5 816.4V842.5M471.5 821.6V839.3M472.5 824.5V849.5M473.5 826.8V851.7M474.5 830.3V855.1M475.5 805.1V859.6M476.5 830.4V868.5M477.5 843.9V878.2M478.5 857.1V887.6M479.5 820.5V895.1M480.5 861.3V903.1M481.5 879.7V898.2M482.5 887.8V917.5M483.5 892.5V921.5M484.5 898.5V927.4M485.5 872.7V931.9M486.5 889.7V931.6M487.5 894.3V931.6M488.5 898.8V929.6M489.5 855.8V926.4M490.5 877.2V923.8M491.5 876.1V922.3M492.5 868.0V896.9M493.5 819.3V904.4M494.5 745.2V895.3M495.5 762.1V888.3M496.5 746.3V879.1M497.5 730.6V845.8M498.5 635.6V807.8M499.5 663.7V772.0M500.5 639.8V743.2M501.5 611.8V722.4M502.5 588.8V700.0M503.5 542.4V683.2M504.5 550.9V666.9M505.5 540.9V648.5M506.5 540.1V637.8M507.5 516.7V628.1M508.5 525.0V616.3M509.5 520.5V601.9M510.5 514.0V591.8M511.5 500.0V578.7M512.5 506.3V568.6M513.5 500.6V559.0M514.5 500.6V553.7M515.5 479.8V545.7M516.5 481.9V536.5M517.5 478.4V528.9M518.5 479.1V523.2M519.5 474.0V518.6M520.5 464.2V512.6M521.5 440.9V507.8M522.5 445.6V502.3M523.5 441.5V498.2M524.5 442.2V492.2M525.5 434.1V487.4M526.5 431.1V485.4M527.5 415.9V479.6M528.5 419.1V476.4M529.5 418.0V472.1M530.5 416.1V466.6M531.5 403.5V464.5M532.5 407.6V458.7M533.5 406.7V456.1M534.5 407.0V451.9M535.5 399.8V447.4M536.5 401.4V443.4M537.5 389.8V439.8M538.5 391.3V436.2M539.5 391.5V431.5M540.5 388.2V428.7M541.5 379.7V427.5M542.5 384.9V423.5M543.5 382.1V413.4M543.5 420.8V423.6M544.5 384.4V419.1M545.5 382.2V417.4M546.5 369.7V414.2M547.5 372.4V413.2M548.5 371.9V411.7M549.5 374.0V408.5M550.5 361.4V406.5M551.5 363.9V405.5M552.5 363.3V403.4M553.5 364.1V399.2M554.5 360.5V386.8M554.5 395.9V398.2M555.5 352.3V396.6M556.5 356.2V395.3M557.5 354.2V393.5M558.5 352.2V376.7M559.5 352.4V388.8M560.5 341.3V389.8M561.5 345.6V387.0M562.5 344.6V384.7M563.5 343.2V383.4M564.5 336.4V382.5M565.5 339.0V380.5M566.5 337.7V379.1M567.5 328.3V377.2M568.5 334.6V375.4M569.5 332.2V373.2M570.5 335.1V371.3M571.5 333.8V369.7M572.5 322.0V370.4M573.5 326.4V368.6M574.5 325.1V364.6M575.5 328.8V364.5M576.5 327.5V362.8M577.5 314.7V363.4M578.5 318.8V360.5M579.5 318.1V362.0M580.5 315.8V347.2M581.5 316.8V358.7M582.5 317.0V358.1M583.5 310.5V357.9M584.5 313.0V355.6M585.5 312.4V355.6M586.5 317.3V354.2M587.5 311.4V351.7M588.5 307.2V351.4M589.5 309.8V352.5M590.5 309.2V349.1M591.5 310.0V347.8M592.5 303.0V348.1M593.5 306.0V347.0M594.5 306.3V346.8M595.5 308.1V345.1M596.5 300.1V342.9M597.5 303.1V342.2M598.5 303.4V342.0M599.5 307.8V342.0M600.5 297.3V341.6M601.5 300.8V339.4M602.5 300.8V339.4M603.5 303.4V339.0M604.5 303.2V338.2M605.5 294.9V335.7M606.5 297.4V335.7M607.5 297.0V323.8M608.5 291.7V332.5M609.5 294.5V331.2M610.5 294.9V317.6M611.5 294.6V329.6M612.5 292.6V329.6M613.5 287.5V329.1M614.5 291.1V328.3M615.5 290.7V327.6M616.5 288.6V326.0M617.5 292.9V328.3M618.5 284.4V326.2M619.5 286.9V325.9M620.5 286.8V326.2M621.5 287.7V324.8M622.5 281.7V322.1M623.5 284.0V321.1M624.5 284.2V323.0M625.5 287.2V320.4M626.5 288.0V321.5M627.5 278.7V319.4M628.5 280.8V319.1M629.5 281.0V306.2M629.5 318.3V318.8M630.5 283.2V316.0M631.5 281.4V315.7M632.5 279.4V301.9M632.5 314.8V316.9M633.5 274.8V314.4M634.5 277.9V313.5M635.5 277.4V312.7M636.5 279.4V312.8M637.5 276.9V313.5M638.5 271.6V310.0M639.5 274.4V311.9M640.5 275.0V312.7M641.5 277.9V309.3M642.5 278.1V307.0M643.5 271.4V305.4M644.5 274.3V306.5M645.5 275.0V310.3M646.5 275.5V309.5M647.5 276.4V300.7M647.5 305.4V306.8M648.5 269.8V306.2M649.5 272.8V305.9M650.5 273.2V311.0M651.5 274.7V307.7M652.5 267.1V304.2M653.5 272.1V304.1M654.5 271.3V308.1M655.5 272.2V307.2M656.5 272.0V305.2M657.5 266.0V305.1M658.5 268.7V303.6M659.5 270.1V297.7M659.5 304.7V306.5M660.5 269.9V307.5M661.5 269.3V302.0M662.5 262.5V303.7M663.5 267.3V301.5M664.5 267.9V304.2M665.5 269.4V305.5M666.5 271.1V301.1M667.5 260.2V301.4M668.5 266.3V300.9M669.5 265.2V297.8M670.5 268.7V302.3M671.5 266.7V299.7M672.5 259.7V297.9M673.5 263.0V297.1M674.5 263.7V302.0M675.5 264.4V302.0M676.5 265.4V298.3M677.5 257.6V296.8M678.5 262.4V295.3M679.5 261.8V298.9M680.5 261.2V300.1M681.5 254.7V293.8M682.5 260.4V294.6M683.5 260.4V297.0M684.5 260.7V299.9M685.5 262.2V292.9M686.5 253.0V294.0M687.5 257.6V293.7M688.5 258.2V294.9M689.5 257.2V294.3M690.5 259.9V291.0M691.5 250.9V290.8M692.5 256.3V290.6M693.5 255.9V293.0M694.5 255.4V296.2M695.5 255.2V288.1M696.5 249.4V288.4M697.5 253.7V289.0M698.5 253.8V292.3M699.5 255.5V291.2M700.5 248.3V287.0M701.5 252.2V285.9M702.5 252.7V288.8M703.5 255.2V291.9M704.5 247.1V286.2M705.5 252.2V286.7M706.5 252.0V291.1M707.5 252.0V282.0M708.5 246.8V284.3M709.5 251.5V284.5M710.5 251.3V279.3M710.5 285.9V286.7M711.5 252.0V280.8M712.5 246.9V283.9M713.5 250.9V282.8M714.5 250.7V286.9M715.5 249.8V284.9M716.5 251.4V273.2M717.5 245.2V281.3M718.5 249.2V279.0M719.5 249.5V284.0M720.5 251.4V284.5M721.5 250.4V277.6M722.5 242.5V279.3M723.5 246.7V277.9M724.5 246.8V280.3M725.5 248.7V274.2M726.5 247.8V272.9M727.5 247.0V275.4M728.5 240.0V276.7M729.5 243.7V275.0M730.5 244.4V280.4M731.5 246.6V272.1M732.5 246.2V268.5M733.5 238.3V273.7M734.5 242.2V272.4M735.5 241.5V275.8M736.5 243.5V271.5M737.5 235.6V271.2M738.5 240.8V272.9M739.5 240.0V277.1M740.5 239.7V277.5M741.5 240.1V271.0M742.5 234.0V270.2M743.5 237.9V269.6M744.5 238.3V272.3M745.5 237.6V272.4M746.5 239.4V270.2M747.5 232.9V268.3M748.5 236.6V270.2M749.5 237.6V271.1M750.5 238.9V273.5M751.5 237.5V267.0M752.5 233.1V267.6M753.5 236.7V266.8M754.5 236.0V263.2M754.5 269.6V271.1M755.5 237.2V269.4M756.5 237.8V261.3M757.5 231.0V266.8M758.5 235.6V265.5M759.5 235.8V270.2M760.5 234.5V268.4M761.5 236.5V263.8M762.5 230.3V265.5M763.5 233.9V263.1M764.5 234.0V269.6M765.5 233.0V266.7M766.5 235.2V257.0M767.5 227.1V262.4M768.5 230.6V263.2M769.5 231.6V266.6M770.5 232.6V258.1M770.5 265.0V266.5M771.5 225.8V263.1M772.5 229.8V260.7M773.5 230.3V264.2M774.5 230.5V267.6M775.5 229.9V261.2M776.5 230.5V253.5M776.5 259.0V259.4M777.5 222.7V260.3M778.5 226.9V260.3M779.5 227.5V265.3M780.5 227.0V262.8M781.5 221.9V260.2M782.5 225.0V259.3M783.5 225.3V262.2M784.5 229.0V261.1M785.5 218.5V257.2M786.5 224.4V258.7M787.5 223.9V263.2M788.5 222.5V260.9M789.5 223.4V250.6M790.5 217.1V257.3M791.5 221.0V255.3M792.5 220.8V261.9M793.5 222.2V259.4M794.5 224.1V254.6M795.5 213.8V254.5M796.5 219.8V255.4M797.5 218.8V258.4M798.5 221.8V259.1M799.5 213.5V252.9M800.5 217.1V253.3M801.5 216.5V255.1M802.5 220.1V257.2M803.5 211.0V252.0M804.5 214.9V252.0M805.5 215.5V256.9M806.5 215.0V256.9M807.5 217.5V249.7M808.5 209.5V248.9M809.5 213.2V248.9M810.5 213.2V254.4M811.5 213.2V253.2M812.5 213.3V248.1M813.5 206.9V247.3M814.5 210.0V248.1M815.5 210.1V251.2M816.5 214.4V243.4M816.5 250.0V251.2M817.5 203.8V245.0M818.5 207.7V244.8M819.5 208.3V248.2M820.5 211.1V247.6M821.5 210.6V244.5M822.5 203.4V243.5M823.5 205.5V242.5M824.5 206.5V239.6M824.5 247.9V248.3M825.5 210.3V247.8M826.5 200.5V243.0M827.5 204.7V242.4M828.5 204.3V246.8M829.5 208.0V237.6M829.5 241.6V244.4M830.5 205.3V242.2M831.5 197.2V239.7M832.5 202.7V241.3M833.5 202.1V244.7M834.5 205.6V243.9M835.5 196.6V240.2M836.5 201.6V240.0M837.5 200.3V241.5M838.5 199.2V241.3M839.5 194.9V239.7M840.5 199.8V237.9M841.5 199.1V240.7M842.5 198.8V243.6M843.5 201.5V237.6M844.5 192.9V237.3M845.5 196.5V234.9M846.5 197.9V232.2M846.5 239.4V239.6M847.5 196.9V237.6M848.5 191.6V235.1M849.5 195.5V234.6M850.5 196.5V239.5M851.5 199.0V235.3M852.5 195.3V232.0M853.5 190.0V232.7M854.5 196.0V232.8M855.5 195.5V235.1M856.5 197.9V228.5M856.5 234.5V235.3M857.5 195.6V230.2M858.5 190.8V231.8M859.5 194.8V232.1M860.5 194.2V234.4M861.5 195.7V226.7M861.5 232.0V236.5M862.5 198.3V230.0M863.5 188.1V230.8M864.5 193.0V230.5M865.5 193.6V224.2M865.5 229.3V231.8M866.5 194.7V232.0M867.5 195.1V228.6M868.5 187.7V228.5M869.5 192.7V229.0M870.5 192.7V230.4M871.5 187.5V227.4M872.5 192.0V227.4M873.5 192.1V230.8M874.5 195.3V231.1M875.5 193.7V225.2M876.5 186.4V226.0M877.5 190.0V226.6M878.5 190.4V228.7M879.5 192.1V230.8M880.5 191.0V217.9M881.5 185.1V224.5M882.5 189.6V224.8M883.5 188.9V229.8M884.5 188.7V218.5M885.5 188.4V215.3M885.5 220.7V223.5M886.5 187.6V221.8M887.5 183.2V222.3M888.5 188.2V223.4M889.5 187.8V225.7M890.5 189.0V227.2M891.5 187.3V221.2M892.5 180.6V220.2M893.5 185.7V220.7M894.5 186.0V224.0M895.5 188.4V225.8M896.5 180.6V218.6M897.5 184.2V219.4M898.5 184.8V221.6M899.5 185.6V224.8M900.5 183.3V217.9M901.5 178.0V218.7M902.5 182.6V217.0M903.5 183.4V220.0M904.5 182.3V222.1M905.5 185.0V217.1M906.5 177.9V216.1M907.5 181.6V217.1M908.5 182.3V212.2M909.5 176.4V214.8M910.5 181.7V215.2M911.5 181.2V210.8M912.5 179.8V221.0M913.5 182.0V213.3M914.5 176.0V213.5M915.5 179.4V214.5M916.5 179.3V208.2M917.5 181.6V213.6M917.5 217.6V219.3M918.5 179.3V212.3M919.5 173.9V211.3M920.5 178.4V212.0M921.5 177.8V207.7M922.5 180.7V216.7M923.5 179.5V211.5M924.5 172.1V212.5M925.5 176.7V209.7M926.5 176.7V215.4M927.5 176.0V213.4M928.5 178.8V209.0M929.5 169.8V209.1M930.5 175.7V210.4M931.5 175.5V213.8M932.5 174.3V211.3M933.5 177.1V202.5M934.5 169.1V208.7M935.5 173.3V207.4M936.5 173.8V212.6M937.5 178.2V210.4M938.5 168.9V207.0M939.5 172.9V208.6M940.5 173.5V212.4M941.5 173.1V211.2M942.5 174.5V200.7M943.5 176.3V206.3M944.5 168.0V205.3M945.5 172.0V205.2M946.5 171.8V211.2M947.5 172.9V208.6M948.5 166.2V206.8M949.5 170.3V205.8M950.5 171.5V209.5M951.5 172.1V207.5M952.5 166.5V203.6M953.5 170.1V205.3M954.5 169.6V209.9M955.5 171.9V207.1M956.5 163.2V202.5M957.5 169.0V202.8M958.5 168.5V208.2M959.5 162.9V201.4M960.5 166.3V203.6M961.5 166.7V208.5M962.5 170.7V206.9M963.5 161.8V202.3M964.5 166.0V200.7M965.5 165.2V204.5M966.5 164.1V203.3M967.5 159.2V199.8M968.5 163.0V198.6M969.5 163.5V196.4M970.5 167.0V202.1M971.5 163.3V192.0M972.5 156.9V198.9M973.5 161.2V199.5M974.5 162.6V203.6M975.5 166.0V201.8M976.5 163.6V197.5M977.5 155.6V197.0M978.5 160.1V197.1M979.5 160.3V193.0M980.5 163.9V194.1M980.5 199.2V201.2M981.5 156.2V196.7M982.5 159.0V195.1M983.5 159.4V190.3M983.5 198.0V198.8M984.5 162.3V190.6M984.5 196.2V198.5M985.5 154.5V194.5M986.5 159.0V193.4M987.5 158.4V190.1M987.5 195.1V199.1M988.5 153.8V194.7M989.5 157.2V192.4M990.5 157.0V199.4M991.5 156.1V188.8M992.5 161.2V186.9M993.5 152.2V192.8M994.5 156.7V193.2M995.5 157.0V195.9M996.5 160.3V197.8M997.5 160.8V191.2M998.5 158.9V191.3M999.5 152.1V192.7M1000.5 155.4V193.4M1001.5 156.2V198.2M1002.5 160.2V196.4M1003.5 156.4V191.8M1004.5 151.1V191.8M1005.5 154.6V191.5M1006.5 155.4V194.2M1007.5 155.5V194.4M1008.5 151.1V190.2M1009.5 154.7V192.3M1010.5 154.9V193.6M1011.5 156.5V193.3M1012.5 156.4V186.4M1012.5 190.1V190.7M1013.5 150.2V190.3M1014.5 153.4V189.4M1015.5 154.5V192.8M1016.5 158.1V193.5M1017.5 158.3V189.1M1018.5 148.8V189.2M1019.5 152.7V189.6M1020.5 153.5V185.8M1020.5 192.4V194.1M1021.5 156.4V195.2M1022.5 147.1V189.9M1023.5 152.6V187.6M1024.5 152.5V190.9M1025.5 154.0V183.6M1026.5 155.5V186.9M1027.5 153.9V181.1M1027.5 187.9V188.3M1028.5 146.6V187.4M1029.5 151.6V187.6M1030.5 151.2V192.8M1031.5 147.0V187.4M1032.5 150.2V187.2M1033.5 150.6V190.3M1034.5 151.1V192.2M1035.5 145.0V185.8M1036.5 149.4V186.3M1037.5 149.6V188.2M1038.5 153.6V192.2M1039.5 144.0V185.5M1040.5 148.2V186.5M1041.5 149.4V181.0M1042.5 148.3V188.2M1043.5 153.2V180.3M1043.5 184.3V185.6M1044.5 144.5V184.4M1045.5 148.0V185.0M1046.5 148.2V180.2M1046.5 184.9V189.5M1047.5 150.1V190.0M1048.5 151.2V176.4M1049.5 143.4V182.1M1050.5 147.5V182.9M1051.5 146.9V187.3M1052.5 150.4V185.9M1053.5 151.0V182.6M1054.5 140.9V182.3M1055.5 145.5V182.4M1056.5 145.4V186.3M1057.5 147.7V184.3M1058.5 145.2V180.0M1059.5 140.3V180.3M1060.5 143.9V179.5M1061.5 144.7V183.9M1062.5 149.0V176.6M1062.5 184.0V184.7M1063.5 144.2V180.9M1064.5 140.8V179.8M1065.5 144.0V180.7M1066.5 144.0V183.8M1067.5 145.3V177.0M1067.5 181.9V183.5M1068.5 148.1V178.1M1069.5 140.4V178.1M1070.5 143.3V178.3M1071.5 144.1V181.3M1072.5 147.8V181.5M1073.5 138.5V179.4M1074.5 142.3V178.1M1075.5 143.9V184.0M1076.5 138.3V178.0M1077.5 141.1V178.8M1078.5 142.1V173.9M1079.5 145.1V182.7M1080.5 143.7V176.8M1081.5 136.3V177.3M1082.5 139.7V177.7M1083.5 140.7V181.0M1084.5 140.7V183.1M1085.5 143.9V178.6M1086.5 134.4V177.4M1087.5 137.9V177.2M1088.5 138.7V179.7M1089.5 141.2V180.5M1090.5 139.7V168.9M1091.5 131.3V176.6M1092.5 137.0V177.5M1093.5 136.9V181.3M1094.5 140.3V173.2M1095.5 129.9V178.3M1096.5 134.9V177.5M1097.5 135.2V180.2M1098.5 139.7V179.7M1099.5 131.3V209.7M1100.5 139.8V265.8M1101.5 125.0V297.9M1102.5 127.5V328.2M1103.5 258.9V351.2M1104.5 205.2V374.1M1105.5 247.6V396.4M1106.5 278.0V420.8M1107.5 303.0V447.2M1108.5 333.0V479.0M1109.5 438.5V508.7M1110.5 379.5V536.6M1111.5 402.0V560.7M1112.5 424.5V582.0M1113.5 449.8V603.4M1114.5 569.3V628.8M1115.5 515.4V653.0M1116.5 541.5V682.5M1117.5 564.0V706.5M1118.5 586.0V735.8M1119.5 624.1V759.8M1120.5 633.1V784.1M1121.5 659.8V809.9M1122.5 686.5V831.6M1123.5 715.3V852.8M1124.5 739.5V873.0M1125.5 764.3V891.0M1126.5 789.2V911.1M1127.5 817.8V931.7M1128.5 836.9V949.4M1129.5 856.6V966.5M1130.5 876.2V898.3M1130.5 939.2V985.3M1131.5 905.9V1002.2M1132.5 924.3V1018.6M1133.5 934.2V1028.8M1134.5 952.0V1040.2M1135.5 969.9V1049.8M1136.5 996.4V1060.6M1137.5 1009.8V1011.3M1137.5 1042.6V1070.9M1138.5 1021.2V1082.1M1139.5 1031.8V1092.1M1140.5 1042.5V1100.5M1141.5 1054.5V1069.0M1141.5 1085.6V1110.2M1142.5 1093.4V1118.0M1143.5 1074.0V1124.8M1144.5 1084.0V1129.0M1145.5 1094.0V1135.7M1146.5 1114.5V1115.0M1146.5 1168.9V1239.1M1147.5 1137.7V1228.7M1148.5 1148.2V1231.7M1149.5 1159.6V1248.6M1150.5 1166.5V1183.6M1150.5 1208.8V1243.8M1151.5 1165.7V1236.9M1152.5 1163.6V1237.1M1153.5 1137.1V1240.1M1154.5 1164.5V1243.9M1155.5 1163.7V1180.0M1155.5 1210.5V1260.0M1156.5 1173.3V1263.9M1157.5 1166.5V1185.2M1157.5 1208.4V1248.4M1158.5 1146.7V1257.2M1159.5 1166.2V1253.8M1160.5 1169.4V1197.8M1160.5 1242.8V1286.4M1161.5 1169.7V1195.9M1161.5 1230.7V1294.0M1162.5 1144.8V1268.5M1163.5 1165.1V1269.1M1164.5 1166.1V1308.5M1165.5 1177.9V1189.7M1165.5 1232.9V1312.9M1166.5 1164.6V1193.9M1166.5 1233.3V1287.8M1167.5 1145.7V1283.2M1168.5 1167.2V1289.0M1169.5 1164.0V1331.2M1170.5 1170.7V1208.3M1170.5 1283.1V1341.3M1171.5 1171.2V1290.7M1172.5 1147.5V1304.3M1173.5 1167.6V1296.1M1174.5 1170.7V1324.6M1175.5 1172.1V1194.8M1175.5 1280.7V1326.5M1176.5 1150.6V1293.6M1177.5 1176.0V1300.1M1178.5 1175.1V1308.2M1179.5 1175.0V1309.7M1180.5 1192.1V1202.1M1180.5 1265.3V1298.3M1181.5 1178.5V1197.3M1181.5 1239.0V1296.2M1182.5 1157.6V1297.4M1183.5 1176.3V1301.6M1184.5 1182.4V1307.3M1185.5 1188.2V1199.6M1185.5 1242.0V1319.8M1186.5 1197.0V1303.8M1187.5 1162.3V1296.9M1188.5 1189.5V1304.5M1189.5 1190.4V1325.1M1190.5 1193.0V1237.8M1190.5 1276.7V1317.7M1191.5 1194.9V1219.6M1191.5 1265.9V1300.8M1192.5 1170.8V1300.3M1193.5 1187.8V1297.7M1194.5 1186.5V1308.2M1195.5 1186.9V1200.1M1195.5 1265.1V1309.1M1196.5 1193.7V1219.2M1196.5 1262.5V1295.4M1197.5 1167.6V1293.0M1198.5 1186.6V1293.8M1199.5 1185.6V1313.1M1200.5 1199.2V1221.2M1200.5 1270.6V1319.4M1201.5 1195.2V1212.8M1201.5 1242.3V1297.3M1202.5 1167.5V1298.4M1203.5 1183.6V1297.1M1204.5 1182.9V1320.2M1205.5 1196.5V1313.6M1206.5 1196.0V1297.2M1207.5 1160.6V1293.7M1208.5 1180.7V1296.5M1209.5 1180.5V1313.1M1210.5 1179.2V1307.3M1211.5 1181.4V1294.4M1212.5 1153.3V1302.8M1213.5 1172.4V1301.1M1214.5 1174.6V1191.7M1214.5 1275.2V1321.0M1215.5 1189.7V1318.7M1216.5 1152.6V1298.6M1217.5 1173.2V1294.9M1218.5 1173.8V1310.9M1219.5 1174.6V1186.7M1219.5 1257.4V1318.4M1220.5 1155.2V1297.0M1221.5 1167.1V1300.2M1222.5 1170.7V1307.8M1223.5 1174.3V1203.8M1223.5 1263.1V1314.8M1224.5 1171.3V1299.7M1225.5 1153.0V1299.8M1226.5 1173.5V1297.2M1227.5 1174.8V1316.7M1228.5 1186.3V1322.9M1229.5 1187.9V1202.4M1229.5 1257.4V1305.4M1230.5 1174.1V1191.6M1230.5 1257.8V1305.1M1231.5 1160.0V1299.0M1232.5 1175.9V1304.6M1233.5 1178.5V1330.0M1234.5 1175.8V1326.5M1235.5 1190.7V1309.8M1236.5 1160.4V1306.6M1237.5 1177.4V1307.2M1238.5 1176.6V1182.7M1238.5 1269.5V1320.9M1239.5 1188.6V1325.8M1240.5 1193.7V1198.1M1240.5 1257.8V1301.4M1241.5 1157.4V1303.3M1242.5 1178.5V1305.5M1243.5 1176.3V1230.0M1243.5 1273.7V1334.4M1244.5 1191.4V1316.8M1245.5 1157.7V1308.3M1246.5 1173.0V1309.0M1247.5 1175.7V1195.2M1247.5 1289.8V1335.0M1248.5 1187.7V1325.4M1249.5 1174.0V1308.0M1250.5 1154.9V1303.8M1251.5 1167.2V1304.3M1252.5 1172.8V1191.1M1252.5 1271.9V1318.6M1253.5 1175.9V1206.9M1253.5 1282.4V1328.1M1254.5 1168.4V1219.6M1254.5 1259.7V1301.2M1255.5 1153.1V1304.4M1256.5 1169.1V1301.8M1257.5 1171.0V1185.2M1257.5 1227.8V1313.9M1258.5 1171.5V1208.3M1258.5 1269.0V1322.0M1259.5 1186.6V1290.7M1260.5 1151.3V1292.9M1261.5 1169.8V1290.4M1262.5 1165.9V1304.6M1263.5 1170.6V1298.2M1264.5 1136.2V1291.8M1265.5 1156.0V1286.3M1266.5 1159.5V1301.3M1267.5 1163.6V1294.1M1268.5 1163.2V1283.8M1269.5 1127.9V1282.0M1270.5 1146.6V1280.0M1271.5 1150.4V1179.3M1271.5 1231.7V1290.1M1272.5 1147.6V1283.2M1273.5 1157.9V1195.8M1273.5 1230.6V1279.7M1274.5 1123.0V1278.5M1275.5 1148.3V1274.1M1276.5 1145.5V1286.3M1277.5 1155.1V1172.7M1277.5 1243.3V1289.4M1278.5 1120.1V1272.2M1279.5 1140.0V1274.7M1280.5 1142.7V1286.5M1281.5 1156.1V1282.0M1282.5 1121.1V1270.9M1283.5 1139.0V1273.4M1284.5 1139.7V1283.8M1285.5 1150.7V1159.5M1285.5 1221.6V1280.2M1286.5 1117.3V1272.2M1287.5 1134.6V1270.8M1288.5 1138.8V1287.1M1289.5 1151.7V1283.7M1290.5 1138.7V1267.2M1291.5 1145.8V1169.4M1291.5 1222.7V1267.6M1292.5 1116.7V1271.3M1293.5 1136.4V1267.7M1294.5 1138.5V1165.8M1294.5 1220.8V1276.4M1295.5 1136.5V1276.4M1296.5 1125.2V1268.8M1297.5 1140.6V1269.2M1298.5 1144.6V1285.6M1299.5 1153.2V1276.0M1300.5 1124.9V1271.6M1301.5 1145.5V1268.7M1302.5 1146.4V1191.9M1302.5 1243.9V1286.1M1303.5 1146.2V1285.8M1304.5 1158.1V1279.9M1305.5 1132.3V1282.6M1306.5 1149.7V1286.0M1307.5 1153.8V1210.1M1307.5 1257.7V1300.6M1308.5 1159.7V1298.8M1309.5 1130.0V1297.4M1310.5 1152.1V1303.1M1311.5 1156.2V1310.1M1312.5 1151.2V1185.5M1312.5 1243.7V1309.5M1313.5 1153.0V1303.4M1314.5 1120.5V1301.1M1315.5 1147.8V1297.1M1316.5 1145.3V1301.0M1317.5 1177.9V1205.5M1318.5 1114.9V1218.7M1319.5 1167.5V1218.4M1320.5 1153.0V1222.7M1321.5 1149.9V1217.9M1322.5 1136.6V1175.2M1322.5 1200.5V1210.1M1323.5 1065.0V1201.1M1324.5 1107.2V1196.0M1325.5 1119.5V1202.5M1326.5 1123.0V1198.1M1327.5 1069.4V1183.2M1328.5 1100.5V1179.1M1329.5 1108.6V1178.5M1330.5 1116.9V1145.3M1330.5 1177.2V1179.1M1331.5 1105.2V1164.7M1332.5 1103.0V1163.9M1333.5 1022.7V1161.0M1334.5 1086.1V1158.1M1335.5 1085.5V1142.9M1335.5 1170.2V1175.5M1336.5 1110.7V1187.6M1337.5 1031.8V1187.5M1338.5 1113.9V1197.9M1339.5 1130.9V1169.6M1340.5 1054.1V1225.2M1341.5 1125.8V1221.3M1342.5 1144.9V1225.0M1343.5 1154.3V1183.4M1343.5 1210.5V1225.6M1344.5 1091.7V1214.3M1345.5 1144.7V1211.6M1346.5 1142.4V1216.6M1347.5 1137.5V1211.9M1348.5 1126.5V1193.6M1349.5 1055.9V1181.8M1350.5 1087.2V1172.7M1351.5 1086.7V1170.6M1352.5 1094.8V1166.5M1353.5 1026.2V1147.2M1354.5 1056.2V1139.4M1355.5 1070.0V1139.3M1356.5 1071.8V1133.6M1357.5 1062.5V1123.0M1358.5 1007.3V1117.4M1359.5 1046.1V1111.9M1360.5 1051.3V1119.6M1361.5 1060.8V1125.9M1362.5 1008.8V1117.9M1363.5 1053.4V1120.2M1364.5 1060.6V1130.2M1365.5 1072.2V1135.0M1366.5 1071.7V1138.0M1367.5 1003.5V1141.0M1368.5 1056.3V1152.6M1369.5 1074.2V1164.9M1370.5 1090.2V1173.0M1371.5 1088.0V1123.0M1372.5 1032.2V1175.4M1373.5 1078.5V1174.8M1374.5 1097.2V1181.9M1375.5 1110.7V1190.3M1376.5 1106.2V1175.2M1377.5 1022.9V1178.4M1378.5 1114.2V1176.6M1379.5 1108.4V1193.7M1380.5 1127.3V1195.5M1381.5 1126.2V1164.1M1382.5 1057.4V1195.3M1383.5 1110.9V1199.1M1384.5 1122.5V1158.3M1385.5 1139.7V1216.6M1386.5 1138.2V1210.5M1387.5 1079.2V1206.4M1388.5 1117.7V1209.3M1389.5 1133.4V1179.4M1389.5 1213.9V1218.5M1390.5 1141.8V1217.3M1391.5 1083.3V1210.9M1392.5 1138.5V1209.2M1393.5 1143.7V1214.8M1394.5 1137.5V1215.0M1395.5 1073.6V1199.6M1396.5 1129.5V1191.7M1397.5 1123.0V1193.6M1398.5 1125.5V1187.2M1399.5 1119.4V1142.5M1399.5 1166.3V1170.9M1400.5 1040.9V1164.5M1401.5 1079.3V1162.5M1402.5 1086.6V1132.9M1402.5 1161.0V1162.4M1403.5 1078.6V1162.7M1404.5 1077.4V1146.8M1405.5 1001.4V1141.1M1406.5 1049.6V1135.1M1407.5 1042.8V1133.9M1408.5 1042.5V1126.1M1409.5 1042.9V1074.2M1409.5 1093.5V1108.0M1410.5 963.0V1100.7M1411.5 1024.2V1094.1M1412.5 1022.9V1091.9M1413.5 1025.3V1091.6M1414.5 1024.4V1060.8M1415.5 968.8V1081.2M1416.5 1013.2V1078.1M1417.5 1017.0V1045.7M1418.5 1026.4V1087.4M1419.5 959.8V1078.9M1420.5 1013.5V1080.3M1421.5 1022.7V1088.4M1422.5 1025.7V1088.5M1423.5 1030.5V1085.8M1424.5 957.0V1087.5M1425.5 1025.3V1086.2M1426.5 1022.9V1059.6M1426.5 1085.6V1097.2M1427.5 1030.8V1060.0M1428.5 980.3V1092.5M1429.5 1024.3V1090.6M1430.5 1032.9V1101.0M1431.5 1038.4V1100.4M1432.5 1035.9V1093.0M1433.5 976.6V1097.5M1434.5 1032.0V1096.1M1435.5 1035.7V1111.0M1436.5 1055.3V1115.1M1437.5 1058.3V1114.4M1438.5 992.2V1114.5M1439.5 1061.2V1124.2M1440.5 1070.8V1123.4M1441.5 1074.3V1098.5M1441.5 1115.4V1124.3M1442.5 1020.4V1104.3M1443.5 1053.4V1096.0M1444.5 1048.2V1091.5M1445.5 1044.5V1077.4M1446.5 1026.4V1041.2M1446.5 1054.9V1062.6M1447.5 936.2V1044.2M1448.5 980.2V1025.3M1449.5 960.2V982.5M1450.5 961.4V994.0M1451.5 886.4V984.3M1452.5 924.3V975.0M1453.5 926.8V977.6M1454.5 936.2V957.5M1454.5 973.4V981.6M1455.5 938.7V957.6M1455.5 967.6V975.1M1456.5 897.2V983.1M1457.5 943.4V986.3M1458.5 950.2V979.2M1458.5 1007.3V1010.1M1459.5 969.5V1023.1M1460.5 985.6V1029.5M1461.5 929.6V1039.6M1462.5 1002.8V1048.1M1463.5 1011.6V1061.9M1464.5 1028.8V1074.6M1465.5 1039.1V1073.6M1466.5 993.3V1083.6M1467.5 1044.4V1089.2M1468.5 1045.6V1098.5M1469.5 1058.4V1081.5M1469.5 1098.1V1098.8M1470.5 1061.0V1099.2M1471.5 1007.5V1101.7M1472.5 1058.1V1103.5M1473.5 1067.7V1110.4M1474.5 1072.0V1113.8M1475.5 1010.8V1109.4M1476.5 1069.9V1107.7M1477.5 1065.5V1118.4M1478.5 1076.4V1100.3M1479.5 1032.9V1114.0M1480.5 1070.8V1108.3M1481.5 1064.6V1108.9M1482.5 983.8V1101.7M1483.5 1039.2V1098.9M1484.5 1035.4V1086.5M1485.5 1024.9V1070.7M1486.5 1001.8V1053.2M1487.5 933.7V1037.5M1488.5 974.2V1029.2M1489.5 970.2V1029.8M1490.5 972.4V1002.5M1490.5 1017.5V1022.0M1491.5 964.4V981.1M1492.5 907.1V998.8M1493.5 942.9V1007.8M1494.5 959.2V1019.2M1495.5 972.4V1025.7M1496.5 916.2V1027.4M1497.5 975.5V1035.7M1498.5 987.7V1017.7M1498.5 1045.0V1046.5M1499.5 1000.3V1025.0M1500.5 941.0V1053.9M1501.5 1002.4V1059.6M1502.5 1001.8V1031.3M1502.5 1053.7V1072.3M1503.5 1021.9V1080.1M1504.5 1027.7V1075.3M1505.5 962.4V1081.4M1506.5 1022.7V1084.5M1507.5 1037.6V1096.9M1508.5 1049.8V1099.2M1509.5 1053.6V1070.1M1509.5 1089.3V1094.0M1510.5 987.4V1092.0M1511.5 1031.9V1090.1M1512.5 1035.6V1101.3M1513.5 1042.3V1100.6M1514.5 983.3V1084.4M1515.5 1028.7V1083.9M1516.5 1022.7V1082.5M1517.5 1024.9V1079.6M1518.5 963.8V1063.9M1519.5 1004.5V1054.8M1520.5 1004.4V1057.4M1521.5 1008.5V1052.3M1522.5 997.8V1022.4M1522.5 1034.2V1035.1M1523.5 915.9V1023.4M1524.5 971.6V1015.5M1525.5 969.0V1010.8M1526.5 968.0V1012.0M1527.5 969.5V1003.5M1528.5 895.3V1001.1M1529.5 944.4V1006.2M1530.5 964.1V1025.0M1531.5 978.2V1034.5M1532.5 919.0V1030.2M1533.5 975.6V1036.7M1534.5 989.3V1046.8M1535.5 993.1V1018.2M1535.5 1042.6V1051.2M1536.5 878.9V1034.8M1537.5 968.8V1022.6M1538.5 974.9V1029.0M1539.5 979.9V1004.0M1540.5 975.6V1007.0M1541.5 879.6V1006.9M1542.5 968.4V1004.9M1543.5 961.8V989.8M1544.5 972.6V1014.9M1545.5 971.8V986.2M1545.5 996.9V1001.9M1546.5 895.6V1004.8M1547.5 946.5V1004.0M1548.5 951.3V974.4M1548.5 998.7V1006.5M1549.5 953.2V979.8M1550.5 865.2V1003.2M1551.5 926.3V1006.7M1552.5 937.6V991.5M1552.5 1022.1V1023.0M1553.5 943.4V1020.1M1554.5 854.8V1015.9M1555.5 954.6V1017.7M1556.5 959.8V1025.3M1557.5 973.8V1002.7M1558.5 980.1V1032.7M1559.5 984.6V1034.3M1560.5 921.8V1041.8M1561.5 979.4V1046.6M1562.5 996.2V1057.9M1563.5 1007.7V1031.3M1564.5 958.7V1057.1M1565.5 1001.1V1055.2M1566.5 1005.0V1067.1M1567.5 1009.1V1041.0M1567.5 1055.2V1065.9M1568.5 1004.3V1031.8M1569.5 928.4V1052.5M1570.5 980.9V1049.4M1571.5 988.5V1063.1M1572.5 995.8V1027.6M1573.5 993.4V1047.3M1574.5 890.8V1045.9M1575.5 964.6V1045.6M1576.5 978.2V1046.5M1577.5 894.3V1038.7M1578.5 968.0V1040.7M1579.5 973.5V1048.1M1580.5 993.3V1019.1M1581.5 989.4V1039.5M1582.5 926.5V1041.8M1583.5 980.8V1041.2M1584.5 990.9V1023.7M1585.5 998.7V1029.3M1585.5 1048.2V1051.1M1586.5 923.0V1042.0M1587.5 995.1V1041.0M1588.5 999.7V1045.7M1589.5 1005.2V1051.8M1590.5 941.7V1042.3M1591.5 995.3V1039.6M1592.5 994.5V1014.7M1592.5 1038.2V1044.0M1593.5 994.7V1033.8M1594.5 944.1V1025.2M1595.5 967.9V1022.3M1596.5 977.8V997.5M1596.5 1017.6V1023.6M1597.5 975.7V1016.9M1598.5 973.2V1007.3M1599.5 970.5V983.1M1599.5 999.5V1000.9M1600.5 908.5V994.6M1601.5 949.1V990.6M1602.5 948.7V974.7M1603.5 953.2V977.4M1604.5 955.0V983.6M1605.5 901.1V982.6M1606.5 933.7V987.3M1607.5 947.3V991.3M1608.5 949.7V992.6M1609.5 895.8V988.7M1610.5 933.4V991.7M1611.5 946.2V1000.0M1612.5 960.9V1006.0M1613.5 905.7V998.8M1614.5 957.1V1000.8M1615.5 965.4V987.6M1616.5 973.1V1011.9M1617.5 903.5V1011.8M1618.5 971.9V1011.9M1619.5 977.2V998.8M1620.5 979.3V1000.2M1621.5 987.5V1004.3M1622.5 936.1V1025.3M1623.5 982.2V1030.3M1624.5 981.1V1039.6M1625.5 996.3V1048.1M1626.5 996.5V1040.4M1627.5 954.2V1044.5M1628.5 991.4V1043.4M1629.5 996.9V1052.5M1630.5 1006.4V1053.5M1631.5 968.7V1044.1M1632.5 1000.0V1045.3M1633.5 1004.0V1057.5M1634.5 954.1V1049.1M1635.5 999.0V1045.9M1636.5 987.9V1049.2M1637.5 919.9V1039.3M1638.5 971.3V1033.9M1639.5 970.1V1004.2M1639.5 1028.2V1035.3M1640.5 913.7V1025.7M1641.5 957.4V1024.0M1642.5 963.3V1034.3M1643.5 977.6V1001.7M1643.5 1027.4V1033.5M1644.5 982.5V1026.2M1645.5 929.4V1024.3M1646.5 982.1V1027.2M1647.5 984.5V1032.0M1648.5 990.3V1010.5M1648.5 1031.5V1039.3M1649.5 942.4V1030.8M1650.5 982.5V1030.5M1651.5 990.6V1037.3M1652.5 1001.0V1016.1M1652.5 1032.8V1036.9M1653.5 1004.1V1021.4M1653.5 1029.6V1032.6M1654.5 918.7V1031.2M1655.5 979.0V1034.0M1656.5 982.7V1010.3M1657.5 993.9V1028.2M1657.5 1044.3V1044.4M1658.5 988.9V1016.0M1658.5 1026.2V1027.7M1659.5 900.0V1028.2M1660.5 967.8V1029.4M1661.5 965.0V1013.8M1662.5 980.0V1040.7M1663.5 891.3V1026.1M1664.5 967.2V1028.0M1665.5 975.3V1003.9M1666.5 982.2V1011.6M1666.5 1029.9V1040.0M1667.5 983.1V1001.8M1667.5 1018.6V1025.1M1668.5 865.4V1021.9M1669.5 945.0V1028.3M1670.5 970.2V1040.2M1671.5 980.8V1038.7M1672.5 977.1V999.4M1673.5 975.7V1004.9M1674.5 884.9V1019.5M1675.5 942.0V1025.0M1676.5 962.2V1030.8M1677.5 980.9V1031.5M1678.5 890.1V1021.6M1679.5 962.3V1021.9M1680.5 967.6V1030.1M1681.5 980.0V1026.2M1682.5 981.8V1006.3M1682.5 1017.7V1020.9M1683.5 921.3V1017.3M1684.5 971.2V1019.9M1685.5 976.1V1002.4M1686.5 986.5V1031.1M1687.5 985.5V1014.5M1688.5 989.0V1003.2M1689.5 941.2V1011.4M1690.5 975.1V1016.9M1691.5 983.1V1001.4M1692.5 989.7V1023.9M1693.5 991.7V1014.3M1694.5 938.7V1007.9M1695.5 988.3V1013.8M1696.5 983.1V1002.6M1696.5 1026.6V1028.0M1697.5 988.6V1027.4M1698.5 984.6V1005.4M1699.5 984.1V997.9M1699.5 1010.6V1011.4M1700.5 888.0V1012.4M1701.5 963.5V1010.0M1702.5 960.1V1015.9M1703.5 972.3V991.7M1703.5 1005.2V1017.7M1704.5 868.1V1004.9M1705.5 949.8V1007.7M1706.5 959.6V1009.8M1707.5 962.9V1013.0M1708.5 968.3V1013.6M1709.5 858.4V1016.8M1710.5 933.1V1021.0M1711.5 947.9V1030.6M1712.5 969.8V1034.7M1713.5 966.5V1032.9M1714.5 858.6V1036.5M1715.5 955.9V1040.7M1716.5 950.2V1012.1M1717.5 958.1V997.5M1718.5 866.2V1045.4M1719.5 933.5V1043.5M1720.5 953.5V1044.3M1721.5 961.6V1041.7M1722.5 964.0V1030.2M1723.5 971.7V1025.5M1724.5 902.0V1018.7M1725.5 947.8V1014.4M1726.5 966.3V1016.9M1727.5 971.7V989.0M1728.5 976.0V987.9M1729.5 906.2V991.8M1730.5 948.3V988.5M1731.5 948.7V990.3M1732.5 944.9V988.3M1733.5 933.2V976.5M1734.5 871.2V975.4M1735.5 898.4V971.7M1736.5 908.6V941.7M1737.5 914.6V976.4M1738.5 917.0V967.5M1739.5 863.6V968.7M1740.5 892.2V969.4M1741.5 906.8V942.4M1742.5 917.2V979.4M1743.5 917.8V973.8M1744.5 848.9V976.2M1745.5 921.8V976.5M1746.5 932.5V957.6M1747.5 941.8V968.8M1748.5 878.3V984.8M1749.5 951.7V982.8M1750.5 951.7V971.1M1751.5 953.5V974.1M1751.5 995.2V999.3M1752.5 891.0V988.9M1753.5 932.5V992.0M1754.5 943.1V966.9M1755.5 945.5V996.4M1756.5 940.8V993.3M1757.5 874.8V995.1M1758.5 916.5V994.4M1759.5 937.9V999.6M1760.5 938.4V1005.2M1761.5 942.8V997.5M1762.5 852.5V997.9M1763.5 930.9V993.8M1764.5 927.7V964.0M1764.5 1005.1V1010.5M1765.5 941.1V1011.7M1766.5 933.2V961.2M1767.5 935.5V973.3M1768.5 851.1V995.8M1769.5 912.3V997.2M1770.5 933.2V1002.0M1771.5 947.9V1009.3M1772.5 949.4V997.9M1773.5 866.4V994.7M1774.5 937.1V993.0M1775.5 948.2V1005.8M1776.5 896.0V996.0M1777.5 943.0V993.0M1778.5 953.0V1006.2M1779.5 958.3V980.3M1780.5 914.8V996.3M1781.5 954.1V993.9M1782.5 953.2V1000.6M1783.5 951.0V1002.3M1784.5 952.5V993.4M1785.5 948.8V991.9M1786.5 857.0V991.1M1787.5 921.8V994.8M1788.5 935.4V999.4M1789.5 944.2V1003.2M1790.5 942.0V962.0M1791.5 836.1V988.7M1792.5 918.9V991.1M1793.5 925.4V1002.3M1794.5 942.1V973.3M1795.5 938.3V989.6M1796.5 939.8V988.3M1797.5 866.5V988.6M1798.5 929.1V987.8M1799.5 938.5V999.8M1800.5 857.9V989.0M1801.5 916.6V990.4M1802.5 932.5V999.6M1803.5 944.6V966.6M1804.5 939.8V964.9M1804.5 982.5V987.2M1805.5 864.4V991.7M1806.5 927.4V992.2M1807.5 936.6V1005.4M1808.5 946.9V1006.1M1809.5 955.5V1002.0M1810.5 887.8V1002.3M1811.5 940.8V1006.0M1812.5 953.4V1019.2M1813.5 960.2V988.6M1813.5 1009.2V1022.2M1814.5 961.8V1017.4M1815.5 919.4V1020.1M1816.5 967.0V1022.0M1817.5 966.2V1029.5M1818.5 971.7V1028.0M1819.5 931.5V1022.4M1820.5 960.6V1022.6M1821.5 967.5V1030.3M1822.5 979.7V1025.4M1823.5 973.7V1020.4M1824.5 940.8V1020.2M1825.5 967.4V1019.4M1826.5 972.9V1022.5M1827.5 980.1V1019.7M1828.5 977.4V995.2M1828.5 1012.3V1012.5M1829.5 912.7V1012.5M1830.5 946.7V1012.3M1831.5 958.4V1015.2M1832.5 952.1V980.3M1833.5 941.6V984.1M1834.5 840.7V967.0M1835.5 900.2V955.1M1836.5 903.7V955.6M1837.5 898.3V944.2M1838.5 814.6V923.0M1839.5 875.8V917.3M1840.5 875.0V917.0M1841.5 868.7V910.5M1842.5 859.9V878.0M1842.5 889.3V891.5M1843.5 800.0V881.1M1844.5 833.3V872.2M1845.5 840.4V868.6M1846.5 844.4V870.6M1847.5 794.5V868.4M1848.5 840.7V872.2M1849.5 848.9V861.9M1850.5 854.5V886.5M1851.5 857.3V866.6M1851.5 879.1V880.6M1852.5 801.0V888.1M1853.5 842.7V890.2M1854.5 855.1V879.7M1854.5 890.9V899.9M1855.5 865.2V889.3M1856.5 873.1V906.9M1857.5 875.2V895.0M1857.5 911.0V911.6M1858.5 817.9V915.4M1859.5 864.1V920.1M1860.5 879.5V908.3M1861.5 888.3V907.6M1862.5 846.3V929.2M1863.5 879.3V932.6M1864.5 890.9V921.2M1865.5 902.7V938.9M1866.5 902.8V923.3M1866.5 937.0V938.4M1867.5 905.4V939.7M1868.5 867.3V939.9M1869.5 902.6V937.5M1870.5 905.5V948.0M1871.5 911.1V952.1M1872.5 857.6V941.1M1873.5 900.0V946.7M1874.5 911.7V954.1M1875.5 915.6V952.9M1876.5 862.7V948.9M1877.5 909.9V950.0M1878.5 909.7V938.1M1879.5 919.9V966.9M1880.5 926.5V963.5M1881.5 931.9V954.9M1881.5 965.8V967.7M1882.5 863.0V971.9M1883.5 930.0V976.1M1884.5 933.8V991.8M1885.5 948.4V976.0M1886.5 950.6V967.9M1886.5 981.1V984.7M1887.5 895.7V984.0M1888.5 938.5V979.5M1889.5 940.3V964.0M1890.5 943.1V982.2M1891.5 941.2V958.2M1892.5 892.0V968.5M1893.5 924.9V961.0M1894.5 931.2V946.7M1895.5 930.8V967.1M1896.5 932.0V945.7M1897.5 887.9V961.1M1898.5 921.4V960.9M1899.5 926.3V947.0M1899.5 968.6V970.8M1900.5 927.6V972.9M1901.5 927.2V943.4M1901.5 957.1V965.4M1902.5 880.3V968.5M1903.5 916.4V971.3M1904.5 930.6V952.4M1905.5 932.3V958.3M1905.5 976.1V983.5M1906.5 938.4V977.5M1907.5 891.7V977.0M1908.5 932.2V980.9M1909.5 934.5V989.1M1910.5 942.1V996.8M1911.5 944.9V969.3M1912.5 950.5V969.2M1913.5 897.6V992.1M1914.5 943.7V996.4M1915.5 950.6V976.0M1916.5 955.1V991.5M1916.5 1008.7V1011.4M1917.5 917.2V1002.8M1918.5 954.4V1005.0M1919.5 953.3V1016.5M1920.5 965.4V1022.0M1921.5 907.7V1012.1M1922.5 959.5V1009.9M1923.5 958.6V985.2M1923.5 1013.3V1019.7M1924.5 965.4V1009.4M1925.5 965.2V1005.0M1926.5 918.0V999.8M1927.5 957.5V997.1M1928.5 952.6V1004.9M1929.5 956.3V997.5M1930.5 914.5V992.3M1931.5 944.0V987.1M1932.5 949.6V990.7M1933.5 945.7V967.6M1934.5 885.5V980.0M1935.5 923.6V972.8M1936.5 928.1V984.2M1937.5 932.6V958.5M1938.5 881.0V967.3M1939.5 925.6V962.5M1940.5 923.1V975.7M1941.5 929.2V951.3M1941.5 972.1V973.8M1942.5 927.6V943.2M1942.5 960.0V962.2M1943.5 926.5V947.2M1944.5 877.8V962.0M1945.5 921.6V960.1M1946.5 926.4V953.3M1946.5 976.8V978.5M1947.5 926.5V975.3M1948.5 927.6V965.6M1949.5 929.3V964.3M1950.5 884.8V963.0M1951.5 909.8V960.1M1952.5 920.2V946.4M1952.5 967.0V969.9M1953.5 926.0V944.8M1953.5 963.4V969.6M1954.5 883.4V964.1M1955.5 921.7V962.1M1956.5 927.1V946.9M1956.5 965.9V971.3M1957.5 930.1V953.5M1957.5 963.5V965.3M1958.5 929.9V953.3M1959.5 886.4V953.2M1960.5 927.0V954.1M1961.5 918.0V961.0M1962.5 921.0V952.1M1963.5 912.9V944.2M1964.5 835.0V939.1M1965.5 882.9V931.1M1966.5 883.8V908.2M1967.5 890.6V911.9M1968.5 890.7V923.1M1969.5 845.0V922.3M1970.5 880.0V919.2M1971.5 880.0V898.0M1971.5 920.9V922.9M1972.5 883.9V909.9M1973.5 846.8V914.8M1974.5 881.4V913.2M1975.5 877.5V921.2M1976.5 879.9V921.3M1977.5 877.8V906.0M1978.5 846.7V903.6M1979.5 874.6V904.2M1980.5 868.9V906.5M1981.5 872.6V907.2M1982.5 846.1V896.2M1983.5 869.1V894.9M1984.5 867.6V904.4M1985.5 869.6V885.0M1985.5 893.2V900.4" stroke="#f00" stroke-width="1"/>
<path d="M265.0 901.3V924.9M266.0 915.5V924.3M267.0 913.7V918.5M270.0 882.2V901.4M271.0 891.5V899.9M272.0 895.2V898.5M275.0 847.4V889.4M276.0 880.5V882.6M277.0 871.8V875.7M279.0 837.0V862.1M280.0 852.1V859.3M281.0 854.8V857.0M282.0 852.6V854.6M284.0 822.1V849.9M285.0 843.1V849.6M286.0 848.0V850.3M289.0 824.8V853.4M290.0 848.3V854.5M291.0 852.1V856.3M295.0 833.6V864.7M296.0 858.1V865.4M299.0 863.6V865.9M300.0 815.0V861.2M301.0 844.1V854.2M302.0 844.0V847.2M304.0 790.4V833.2M305.0 819.5V824.3M306.0 806.3V814.1M309.0 749.4V783.4M310.0 765.0V777.3M311.0 768.1V773.9M313.0 743.6V769.8M314.0 758.1V768.9M317.0 740.6V773.3M318.0 774.9V779.4M320.0 795.0V797.6M322.0 770.2V820.6M323.0 818.5V832.9M324.0 839.1V845.2M325.0 795.6V857.5M326.0 858.6V866.6M327.0 866.9V871.0M329.0 841.2V879.8M330.0 875.0V884.2M331.0 880.8V887.2M332.0 885.7V888.2M333.0 854.7V889.2M334.0 888.0V890.1M335.0 887.3V891.1M338.0 851.3V902.2M339.0 892.4V906.7M340.0 905.8V911.2M342.0 879.1V915.4M343.0 912.3V916.2M344.0 911.2V917.0M346.0 910.9V913.2M347.0 877.0V909.2M348.0 902.7V905.3M349.0 896.7V901.3M352.0 843.5V878.4M353.0 858.3V869.3M354.0 855.0V860.3M356.0 823.3V851.0M358.0 843.5V847.5M361.0 816.7V850.8M362.0 850.9V855.4M363.0 855.0V859.9M366.0 832.6V873.3M367.0 870.3V876.2M368.0 876.0V879.2M370.0 857.7V885.1M371.0 882.8V888.1M372.0 889.9V897.5M373.0 852.3V906.8M374.0 909.2V916.2M375.0 922.4V925.6M376.0 932.6V935.0M378.0 888.5V946.1M379.0 935.7V951.7M380.0 952.4V957.3M384.0 909.2V941.9M385.0 926.2V936.3M389.0 873.5V910.2M390.0 897.2V903.6M391.0 891.3V896.0M394.0 843.0V873.1M395.0 857.8V865.4M396.0 858.7V864.3M399.0 837.2V860.8M400.0 857.6V859.7M401.0 855.1V859.7M402.0 829.7V861.8M403.0 858.2V864.2M404.0 863.6V866.7M406.0 844.7V871.6M407.0 863.0V872.6M408.0 868.4V873.5M410.0 850.2V875.2M412.0 872.2V878.6M415.0 846.5V887.6M416.0 878.3V889.7M417.0 885.5V887.8M420.0 845.3V882.2M421.0 875.5V878.3M422.0 870.4V873.4M425.0 835.6V859.0M426.0 847.2V857.5M427.0 853.7V857.3M430.0 831.3V856.7M431.0 848.3V855.4M434.0 823.3V848.8M435.0 842.1V846.6M436.0 838.5V842.0M439.0 794.9V823.1M440.0 813.1V816.8M441.0 806.0V810.9M442.0 779.2V805.4M443.0 789.7V799.9M444.0 789.1V794.4M447.0 756.0V783.2M448.0 774.8V781.3M451.0 756.6V776.3M452.0 776.1V780.4M453.0 788.4V790.9M454.0 798.7V801.3M455.0 763.0V811.8M456.0 804.5V822.2M457.0 822.8V830.2M461.0 814.6V847.4M462.0 835.5V848.3M463.0 841.5V846.6M465.0 818.2V843.3M466.0 830.2V841.0M470.0 800.6V825.4M471.0 816.4V822.7M474.0 826.8V828.8M476.0 805.1V834.1M477.0 830.4V838.2M478.0 843.9V847.8M480.0 820.5V867.0M481.0 861.3V876.6M482.0 879.7V885.1M486.0 872.7V901.0M487.0 889.7V902.6M488.0 894.3V900.8M490.0 855.8V897.1M491.0 877.2V894.3M492.0 876.1V882.6M493.0 868.0V870.9M495.0 745.2V791.0M496.0 762.1V771.0M497.0 746.3V751.0M499.0 635.6V691.0M500.0 663.7V666.0M502.0 611.8V616.0M503.0 588.8V591.0M504.0 542.4V561.0M506.0 540.9V544.3M508.0 516.7V531.7M509.0 525.0V527.3M510.0 520.5V523.0M511.0 514.0V517.8M512.0 500.0V512.6M516.0 479.8V491.7M517.0 481.9V486.3M518.0 478.4V481.0M522.0 440.9V458.4M523.0 445.6V451.8M524.0 441.5V445.2M528.0 415.9V426.0M529.0 419.1V423.0M530.0 418.0V420.0M532.0 403.5V414.0M533.0 407.6V411.0M536.0 399.8V402.0M538.0 389.8V396.9M539.0 391.3V394.7M541.0 388.2V390.5M542.0 379.7V388.3M547.0 369.7V377.7M548.0 372.4V375.5M551.0 361.4V369.1M552.0 363.9V367.0M556.0 352.3V359.7M561.0 341.3V350.5M562.0 345.6V348.7M563.0 344.6V346.8M565.0 336.4V343.2M566.0 339.0V341.3M568.0 328.3V337.7M573.0 322.0V329.8M578.0 314.7V322.7M579.0 318.8V321.3M581.0 315.8V318.4M584.0 310.5V315.6M589.0 307.2V312.1M593.0 303.0V309.3M594.0 306.0V308.7M597.0 300.1V306.6M598.0 303.1V305.9M601.0 297.3V303.8M602.0 300.8V303.1M606.0 294.9V300.2M607.0 297.4V299.4M609.0 291.7V297.8M610.0 294.5V297.0M614.0 287.5V293.8M617.0 288.6V291.4M619.0 284.4V289.8M620.0 286.9V289.0M623.0 281.7V287.2M624.0 284.0V286.5M628.0 278.7V284.1M629.0 280.8V283.5M634.0 274.8V280.4M639.0 271.6V277.3M640.0 274.4V276.7M642.0 304.7V309.3M644.0 271.4V277.5M645.0 274.3V277.1M646.0 303.8V310.3M647.0 303.6V309.5M649.0 269.8V275.5M650.0 272.8V275.1M651.0 302.8V311.0M652.0 302.6V307.7M653.0 267.1V273.9M655.0 302.0V308.1M656.0 301.8V307.2M658.0 266.0V271.9M659.0 268.7V271.5M660.0 301.0V306.5M661.0 300.8V307.5M663.0 262.5V269.9M664.0 267.3V269.5M665.0 299.3V304.2M666.0 298.9V305.5M668.0 260.2V267.9M670.0 297.3V305.3M671.0 296.9V302.3M673.0 259.7V265.9M674.0 263.0V265.5M675.0 295.4V302.0M676.0 295.0V302.0M678.0 257.6V263.9M680.0 293.4V298.9M681.0 293.0V300.1M682.0 254.7V262.3M684.0 291.8V297.0M685.0 291.4V299.9M687.0 253.0V260.3M688.0 257.6V259.9M689.0 289.8V294.9M690.0 289.4V294.3M692.0 250.9V258.3M694.0 287.7V293.0M695.0 287.3V296.2M697.0 249.4V256.3M698.0 253.7V255.9M699.0 285.7V292.3M700.0 285.3V291.2M701.0 248.3V254.8M702.0 252.2V254.6M703.0 284.1V288.8M704.0 283.7V291.9M705.0 247.1V253.9M707.0 282.5V291.1M708.0 282.1V291.0M709.0 246.8V253.1M711.0 280.9V286.7M712.0 280.5V289.1M713.0 246.9V252.3M715.0 279.3V286.9M716.0 278.9V284.9M718.0 245.2V251.3M720.0 277.3V284.0M721.0 276.9V284.5M723.0 242.5V249.7M724.0 246.7V249.2M725.0 275.3V280.3M726.0 274.9V282.6M729.0 240.0V246.7M730.0 243.7V246.2M731.0 272.9V280.4M732.0 272.5V278.1M734.0 238.3V244.3M736.0 271.0V275.8M737.0 270.6V277.5M738.0 235.6V242.3M740.0 269.4V277.1M741.0 269.0V277.5M743.0 234.0V240.3M744.0 237.9V240.1M745.0 267.7V272.3M746.0 237.6V239.7M746.0 267.4V272.4M748.0 232.9V239.3M749.0 236.6V239.1M750.0 266.1V271.1M751.0 265.8V273.5M753.0 233.1V238.3M755.0 264.6V271.1M756.0 264.3V269.4M758.0 231.0V237.3M760.0 263.1V270.2M761.0 234.5V236.7M761.0 262.8V268.4M763.0 230.3V236.0M765.0 261.6V269.6M766.0 261.3V266.7M768.0 227.1V233.9M769.0 230.6V233.5M770.0 260.1V266.6M771.0 259.8V266.5M772.0 225.8V232.3M773.0 229.8V231.9M774.0 258.9V264.2M775.0 258.6V267.6M778.0 222.7V229.9M779.0 226.9V229.5M780.0 257.1V265.3M781.0 256.8V262.8M782.0 221.9V228.3M783.0 225.0V227.8M784.0 255.9V262.2M785.0 255.6V261.1M786.0 218.5V226.3M788.0 254.7V263.2M789.0 222.5V224.8M789.0 254.4V260.9M791.0 217.1V223.8M792.0 221.0V223.3M793.0 253.2V261.9M794.0 252.9V259.4M796.0 213.8V221.3M798.0 251.7V258.4M799.0 251.4V259.1M800.0 213.5V219.3M802.0 250.5V255.1M803.0 250.2V257.2M804.0 211.0V217.5M805.0 214.9V217.0M806.0 248.8V256.9M807.0 248.3V256.9M809.0 209.5V215.2M811.0 246.5V254.4M812.0 246.0V253.2M814.0 206.9V213.0M815.0 210.0V212.6M816.0 210.1V212.1M816.0 244.2V251.2M817.0 243.7V251.2M818.0 203.8V211.2M819.0 207.7V210.8M820.0 208.3V210.3M820.0 242.3V248.2M821.0 241.9V247.6M823.0 203.4V209.0M824.0 205.5V208.6M825.0 240.4V248.3M826.0 240.1V247.8M827.0 200.5V207.2M828.0 204.7V206.8M829.0 204.3V206.3M829.0 239.2V246.8M830.0 238.9V244.4M832.0 197.2V205.0M834.0 202.1V204.1M834.0 237.7V244.7M835.0 237.4V243.9M836.0 196.6V203.2M838.0 200.3V202.3M838.0 236.5V241.5M839.0 199.2V201.8M839.0 236.2V241.3M840.0 194.9V201.4M842.0 235.3V240.7M843.0 235.0V243.6M845.0 192.9V199.6M846.0 196.5V199.3M847.0 233.0V239.6M848.0 232.5V237.6M849.0 191.6V198.4M850.0 195.5V198.1M851.0 231.0V239.5M852.0 230.7V235.3M853.0 195.3V197.5M854.0 190.0V197.3M856.0 229.5V235.1M857.0 229.2V235.3M859.0 190.8V196.3M861.0 228.0V234.4M862.0 227.7V236.5M864.0 188.1V195.3M865.0 193.0V195.1M866.0 226.5V231.8M867.0 226.2V232.0M869.0 187.7V194.3M871.0 225.1V230.4M872.0 187.5V193.7M874.0 224.2V230.8M875.0 223.8V231.1M877.0 186.4V192.4M878.0 190.0V192.2M879.0 222.6V228.7M880.0 222.3V230.8M882.0 185.1V191.2M884.0 221.1V229.8M885.0 220.8V227.9M887.0 187.6V189.9M888.0 183.2V189.7M890.0 219.3V225.7M891.0 219.0V227.2M893.0 180.6V188.3M894.0 185.7V188.0M895.0 217.8V224.0M896.0 217.5V225.8M897.0 180.6V187.1M898.0 184.2V186.8M899.0 216.6V221.6M900.0 216.3V224.8M901.0 183.3V185.9M902.0 178.0V185.6M903.0 182.6V185.3M904.0 215.1V220.0M905.0 182.3V184.7M905.0 214.8V222.1M907.0 177.9V184.1M908.0 181.6V183.8M909.0 213.6V221.2M910.0 176.4V183.2M912.0 212.7V220.5M913.0 179.8V182.3M913.0 212.4V221.0M915.0 176.0V181.7M917.0 211.2V217.5M918.0 210.9V219.3M920.0 173.9V180.2M922.0 209.7V215.7M923.0 209.4V216.7M925.0 172.1V178.7M927.0 208.2V215.4M928.0 207.9V213.4M930.0 169.8V177.2M932.0 206.7V213.8M933.0 174.3V176.5M933.0 206.5V211.3M935.0 169.1V176.1M936.0 173.3V175.9M937.0 205.7V212.6M938.0 205.5V210.4M939.0 168.9V175.3M940.0 172.9V175.1M941.0 204.9V212.4M942.0 204.7V211.2M945.0 168.0V174.1M947.0 203.7V211.2M948.0 203.5V208.6M949.0 166.2V173.3M950.0 170.3V173.1M951.0 202.9V209.5M952.0 202.6V207.5M953.0 166.5V172.0M955.0 201.7V209.9M956.0 201.5V207.1M957.0 163.2V170.4M959.0 200.6V208.2M960.0 162.9V169.3M961.0 166.3V168.9M962.0 199.7V208.5M963.0 199.4V206.9M964.0 161.8V167.7M966.0 198.5V204.5M967.0 164.1V166.5M967.0 198.2V203.3M968.0 159.2V166.1M969.0 163.0V165.7M970.0 197.3V206.2M971.0 197.0V202.1M973.0 156.9V164.3M974.0 161.2V164.0M975.0 195.8V203.6M976.0 195.5V201.8M978.0 155.6V162.8M979.0 160.1V162.5M980.0 194.3V200.9M981.0 194.0V201.2M982.0 156.2V161.6M983.0 159.0V161.3M984.0 193.1V198.8M985.0 192.8V198.5M986.0 154.5V160.4M988.0 191.9V199.1M989.0 153.8V159.5M991.0 191.0V199.4M992.0 156.1V158.7M992.0 190.7V197.4M994.0 152.2V158.5M996.0 190.2V195.9M997.0 190.1V197.8M1000.0 152.1V157.9M1001.0 155.4V157.8M1002.0 189.6V198.2M1003.0 189.5V196.4M1005.0 151.1V157.4M1006.0 154.6V157.3M1007.0 189.1V194.2M1008.0 189.0V194.4M1009.0 151.1V157.0M1010.0 154.7V156.9M1011.0 188.7V193.6M1012.0 188.6V193.3M1014.0 150.2V156.3M1015.0 153.4V156.1M1016.0 187.9V192.8M1017.0 187.7V193.5M1019.0 148.8V155.3M1020.0 152.7V155.1M1021.0 186.9V194.1M1022.0 186.7V195.2M1023.0 147.1V154.5M1025.0 186.1V190.9M1026.0 185.9V191.6M1029.0 146.6V153.3M1031.0 184.9V192.8M1032.0 147.0V152.7M1033.0 150.2V152.5M1034.0 184.3V190.3M1035.0 184.1V192.2M1036.0 145.0V151.9M1037.0 149.4V151.7M1038.0 183.5V188.2M1039.0 183.3V192.2M1040.0 144.0V151.1M1041.0 148.2V150.9M1042.0 182.7V191.2M1043.0 148.3V150.5M1043.0 182.5V188.2M1045.0 144.5V150.1M1047.0 181.7V189.5M1048.0 181.5V190.0M1050.0 143.4V149.0M1052.0 180.7V187.3M1053.0 180.5V185.9M1055.0 140.9V147.8M1056.0 145.5V147.6M1057.0 179.0V186.3M1058.0 178.6V184.3M1060.0 140.3V146.5M1061.0 143.9V146.4M1062.0 177.4V183.9M1063.0 177.3V184.7M1065.0 140.8V146.0M1067.0 176.9V183.8M1068.0 176.8V183.5M1070.0 140.4V145.6M1071.0 143.3V145.5M1072.0 176.4V181.3M1073.0 176.3V181.5M1074.0 138.5V145.2M1075.0 142.3V145.1M1076.0 176.0V184.0M1077.0 138.3V144.5M1078.0 141.1V144.1M1079.0 175.7V182.9M1080.0 175.6V182.7M1082.0 136.3V142.5M1083.0 139.7V142.1M1084.0 175.2V181.0M1085.0 175.1V183.1M1087.0 134.4V140.5M1088.0 137.9V140.1M1089.0 174.7V179.7M1090.0 174.6V180.5M1092.0 131.3V138.6M1094.0 174.5V181.3M1095.0 174.6V181.6M1096.0 129.9V137.5M1097.0 134.9V137.2M1098.0 174.9V180.2M1099.0 175.0V179.7M1114.0 449.8V453.4M1147.0 1219.7V1239.1M1148.0 1137.7V1161.9M1148.0 1223.0V1228.7M1149.0 1148.2V1161.9M1149.0 1226.3V1231.7M1150.0 1159.6V1161.9M1150.0 1229.6V1248.6M1151.0 1232.0V1243.8M1154.0 1137.1V1164.6M1156.0 1163.7V1166.6M1156.0 1242.1V1260.0M1157.0 1244.1V1263.9M1158.0 1166.5V1168.7M1159.0 1146.7V1169.7M1159.0 1248.1V1257.2M1160.0 1166.2V1170.7M1161.0 1169.4V1171.7M1161.0 1253.1V1286.4M1162.0 1256.5V1294.0M1163.0 1144.8V1170.9M1163.0 1259.9V1268.5M1164.0 1165.1V1170.5M1164.0 1263.3V1269.1M1165.0 1166.1V1170.1M1165.0 1266.7V1308.5M1166.0 1270.1V1312.9M1167.0 1164.6V1169.3M1167.0 1273.5V1287.8M1168.0 1145.7V1169.0M1168.0 1276.8V1283.2M1169.0 1280.2V1289.0M1170.0 1164.0V1168.2M1170.0 1283.6V1331.2M1171.0 1285.6V1341.3M1172.0 1286.6V1290.7M1173.0 1147.5V1170.2M1173.0 1287.6V1304.3M1174.0 1167.6V1171.6M1174.0 1288.6V1296.1M1175.0 1170.7V1173.0M1175.0 1289.6V1324.6M1176.0 1172.1V1174.4M1176.0 1290.5V1326.5M1177.0 1150.6V1175.8M1178.0 1292.5V1300.1M1179.0 1175.1V1178.5M1179.0 1293.5V1308.2M1180.0 1175.0V1179.9M1180.0 1294.5V1309.7M1182.0 1178.5V1182.6M1183.0 1157.6V1183.8M1184.0 1176.3V1185.0M1184.0 1294.0V1301.6M1185.0 1182.4V1186.2M1185.0 1293.6V1307.3M1186.0 1293.2V1319.8M1187.0 1292.8V1303.8M1188.0 1162.3V1189.7M1188.0 1292.4V1296.9M1189.0 1292.0V1304.5M1190.0 1291.6V1325.1M1191.0 1291.2V1317.7M1192.0 1291.0V1300.8M1193.0 1170.8V1192.6M1193.0 1291.0V1300.3M1194.0 1187.8V1192.0M1194.0 1291.0V1297.7M1195.0 1186.5V1191.4M1195.0 1291.0V1308.2M1196.0 1186.9V1190.8M1196.0 1291.0V1309.1M1197.0 1291.0V1295.4M1198.0 1167.6V1189.6M1199.0 1186.6V1189.0M1200.0 1185.6V1188.4M1200.0 1291.0V1313.1M1201.0 1291.1V1319.4M1202.0 1291.3V1297.3M1203.0 1167.5V1186.6M1203.0 1291.5V1298.4M1204.0 1183.6V1186.0M1204.0 1291.7V1297.1M1205.0 1182.9V1185.4M1205.0 1291.9V1320.2M1206.0 1292.0V1313.6M1207.0 1292.2V1297.2M1208.0 1160.6V1183.7M1209.0 1180.7V1183.1M1210.0 1292.8V1313.1M1211.0 1179.2V1181.8M1211.0 1293.0V1307.3M1213.0 1153.3V1180.2M1213.0 1292.5V1302.8M1214.0 1172.4V1179.4M1214.0 1292.1V1301.1M1215.0 1174.6V1178.6M1215.0 1291.7V1321.0M1216.0 1291.3V1318.7M1217.0 1152.6V1177.0M1217.0 1290.9V1298.6M1218.0 1173.2V1176.2M1218.0 1290.5V1294.9M1219.0 1290.1V1310.9M1220.0 1289.7V1318.4M1221.0 1155.2V1174.0M1221.0 1289.3V1297.0M1222.0 1167.1V1174.1M1222.0 1289.9V1300.2M1223.0 1170.7V1174.7M1223.0 1290.7V1307.8M1224.0 1291.5V1314.8M1225.0 1171.3V1175.9M1225.0 1292.3V1299.7M1226.0 1153.0V1176.5M1226.0 1293.1V1299.8M1227.0 1173.5V1177.1M1228.0 1174.8V1177.7M1228.0 1294.7V1316.7M1229.0 1295.5V1322.9M1230.0 1296.3V1305.4M1231.0 1174.1V1179.5M1231.0 1297.0V1305.1M1232.0 1160.0V1180.0M1233.0 1175.9V1180.2M1233.0 1297.4V1304.6M1234.0 1297.6V1330.0M1235.0 1175.8V1180.6M1235.0 1297.8V1326.5M1236.0 1298.0V1309.8M1237.0 1160.4V1181.0M1237.0 1298.2V1306.6M1238.0 1177.4V1181.2M1238.0 1298.4V1307.2M1239.0 1176.6V1181.4M1239.0 1298.6V1320.9M1240.0 1298.8V1325.8M1242.0 1157.4V1181.4M1242.0 1299.2V1303.3M1243.0 1178.5V1180.8M1243.0 1299.4V1305.5M1244.0 1176.3V1180.2M1244.0 1299.6V1334.4M1245.0 1299.8V1316.8M1246.0 1157.7V1179.0M1246.0 1300.0V1308.3M1247.0 1173.0V1178.4M1247.0 1300.2V1309.0M1248.0 1175.7V1177.8M1248.0 1300.4V1335.0M1249.0 1300.6V1325.4M1250.0 1174.0V1176.7M1250.0 1300.8V1308.0M1251.0 1154.9V1176.1M1252.0 1167.2V1175.8M1253.0 1172.8V1175.6M1253.0 1299.6V1318.6M1254.0 1298.0V1328.1M1255.0 1168.4V1175.2M1255.0 1296.4V1301.2M1256.0 1153.1V1175.0M1256.0 1294.8V1304.4M1257.0 1169.1V1174.8M1257.0 1293.2V1301.8M1258.0 1171.0V1174.6M1258.0 1291.7V1313.9M1259.0 1171.5V1174.4M1259.0 1290.1V1322.0M1261.0 1151.3V1174.0M1261.0 1286.9V1292.9M1262.0 1169.8V1172.4M1262.0 1285.3V1290.4M1263.0 1165.9V1170.4M1263.0 1284.2V1304.6M1264.0 1283.2V1298.2M1265.0 1136.2V1166.4M1265.0 1282.2V1291.8M1266.0 1156.0V1164.4M1266.0 1281.2V1286.3M1267.0 1159.5V1162.4M1267.0 1280.2V1301.3M1268.0 1279.3V1294.1M1269.0 1278.3V1283.8M1270.0 1127.9V1156.4M1270.0 1277.3V1282.0M1271.0 1146.6V1154.4M1272.0 1150.4V1153.2M1272.0 1275.3V1290.1M1273.0 1147.6V1152.4M1273.0 1274.3V1283.2M1274.0 1273.3V1279.7M1275.0 1123.0V1150.8M1275.0 1272.3V1278.5M1277.0 1145.5V1149.2M1277.0 1270.3V1286.3M1278.0 1269.3V1289.4M1279.0 1120.1V1147.6M1280.0 1140.0V1146.8M1280.0 1267.3V1274.7M1281.0 1142.7V1146.0M1281.0 1266.3V1286.5M1282.0 1265.3V1282.0M1283.0 1121.1V1144.7M1283.0 1264.9V1270.9M1284.0 1139.0V1144.1M1284.0 1264.9V1273.4M1285.0 1139.7V1143.5M1285.0 1264.9V1283.8M1286.0 1264.9V1280.2M1287.0 1117.3V1142.3M1287.0 1264.9V1272.2M1288.0 1134.6V1141.7M1288.0 1264.9V1270.8M1289.0 1138.8V1141.1M1289.0 1264.9V1287.1M1290.0 1264.9V1283.7M1293.0 1116.7V1140.3M1293.0 1264.9V1271.3M1294.0 1136.4V1141.3M1295.0 1138.5V1142.3M1295.0 1264.9V1276.4M1296.0 1136.5V1143.3M1296.0 1264.9V1276.4M1297.0 1125.2V1144.3M1298.0 1140.6V1145.3M1298.0 1264.9V1269.2M1299.0 1264.9V1285.6M1300.0 1264.9V1276.0M1301.0 1124.9V1148.3M1301.0 1264.9V1271.6M1302.0 1145.5V1149.3M1303.0 1146.4V1150.4M1303.0 1270.3V1286.1M1304.0 1146.2V1151.6M1304.0 1273.8V1285.8M1306.0 1132.3V1154.0M1307.0 1149.7V1155.2M1308.0 1153.8V1156.4M1308.0 1288.1V1300.6M1309.0 1291.7V1298.8M1310.0 1130.0V1158.8M1311.0 1152.1V1160.0M1311.0 1298.9V1303.1M1312.0 1156.2V1160.8M1312.0 1300.9V1310.1M1313.0 1151.2V1158.0M1313.0 1300.4V1309.5M1314.0 1153.0V1155.3M1314.0 1298.9V1303.4M1315.0 1120.5V1152.5M1317.0 1294.5V1301.0M1318.0 1217.4V1229.1M1319.0 1114.9V1176.2M1320.0 1167.5V1171.4M1321.0 1153.0V1159.3M1321.0 1215.2V1222.7M1322.0 1209.9V1217.9M1323.0 1204.6V1210.1M1324.0 1065.0V1130.7M1325.0 1107.2V1128.3M1326.0 1119.5V1125.9M1326.0 1188.9V1202.5M1327.0 1183.8V1198.1M1328.0 1069.4V1121.1M1328.0 1178.6V1183.2M1329.0 1100.5V1118.8M1329.0 1173.4V1179.1M1330.0 1108.6V1115.3M1330.0 1168.3V1178.5M1331.0 1165.3V1179.1M1332.0 1105.2V1107.8M1334.0 1022.7V1100.3M1335.0 1086.1V1096.5M1336.0 1085.5V1096.5M1336.0 1163.0V1175.5M1337.0 1174.1V1187.6M1338.0 1031.8V1115.6M1339.0 1113.9V1125.8M1340.0 1130.9V1136.0M1340.0 1207.6V1219.3M1341.0 1054.1V1146.3M1341.0 1218.7V1225.2M1342.0 1125.8V1155.7M1343.0 1144.9V1153.7M1343.0 1216.5V1225.0M1344.0 1212.8V1225.6M1345.0 1091.7V1149.7M1345.0 1209.0V1214.3M1346.0 1144.7V1147.8M1346.0 1205.3V1211.6M1347.0 1142.4V1145.8M1347.0 1201.6V1216.6M1348.0 1197.9V1211.9M1349.0 1189.2V1193.6M1350.0 1055.9V1118.4M1351.0 1087.2V1109.0M1352.0 1086.7V1099.6M1352.0 1161.6V1170.6M1353.0 1152.3V1166.5M1354.0 1026.2V1084.6M1354.0 1143.1V1147.2M1355.0 1056.2V1079.3M1356.0 1070.0V1074.1M1356.0 1131.1V1139.3M1357.0 1125.3V1133.6M1359.0 1007.3V1058.3M1360.0 1046.1V1057.9M1361.0 1051.3V1059.3M1361.0 1110.9V1119.6M1362.0 1112.8V1125.9M1363.0 1008.8V1062.6M1364.0 1053.4V1064.3M1365.0 1060.6V1066.0M1365.0 1118.6V1130.2M1366.0 1125.2V1135.0M1367.0 1132.4V1138.0M1368.0 1003.5V1075.4M1369.0 1056.3V1079.4M1369.0 1146.7V1152.6M1370.0 1074.2V1083.4M1370.0 1153.9V1164.9M1371.0 1161.1V1173.0M1372.0 1088.0V1091.4M1372.0 1168.2V1174.1M1373.0 1032.2V1095.4M1373.0 1170.3V1175.4M1374.0 1078.5V1099.0M1375.0 1097.2V1102.5M1375.0 1171.9V1181.9M1376.0 1172.7V1190.3M1377.0 1106.2V1109.5M1378.0 1022.9V1113.1M1378.0 1174.3V1178.4M1379.0 1114.2V1116.6M1380.0 1108.4V1120.1M1380.0 1177.8V1193.7M1381.0 1181.8V1195.5M1382.0 1185.7V1191.8M1383.0 1057.4V1128.6M1383.0 1189.7V1195.3M1384.0 1110.9V1131.4M1384.0 1193.6V1199.1M1385.0 1122.5V1134.1M1385.0 1197.6V1211.8M1386.0 1201.6V1216.6M1387.0 1204.0V1210.5M1388.0 1079.2V1141.5M1389.0 1117.7V1142.2M1389.0 1204.3V1209.3M1390.0 1133.4V1142.9M1390.0 1204.5V1218.5M1391.0 1204.6V1217.3M1392.0 1083.3V1144.3M1392.0 1204.8V1210.9M1393.0 1138.5V1145.1M1393.0 1205.0V1209.2M1394.0 1205.1V1214.8M1395.0 1137.5V1141.5M1395.0 1203.7V1215.0M1396.0 1073.6V1137.5M1397.0 1129.5V1133.6M1398.0 1123.0V1129.6M1398.0 1183.4V1193.6M1399.0 1176.7V1187.2M1401.0 1040.9V1110.8M1402.0 1079.3V1101.1M1402.0 1157.8V1162.5M1403.0 1086.6V1091.4M1403.0 1152.2V1162.4M1404.0 1078.6V1081.8M1404.0 1146.6V1162.7M1405.0 1141.0V1146.8M1406.0 1001.4V1063.3M1406.0 1135.5V1141.1M1407.0 1049.6V1057.8M1407.0 1129.4V1135.1M1408.0 1042.8V1052.3M1408.0 1121.2V1133.9M1409.0 1042.5V1046.8M1409.0 1113.1V1126.1M1411.0 963.0V1035.8M1412.0 1024.2V1031.5M1412.0 1088.6V1094.1M1413.0 1022.9V1030.2M1413.0 1082.3V1091.9M1414.0 1025.3V1028.8M1414.0 1080.5V1091.6M1415.0 1024.4V1027.4M1415.0 1078.6V1082.8M1416.0 968.8V1026.1M1416.0 1076.8V1081.2M1417.0 1013.2V1024.7M1418.0 1017.0V1023.8M1418.0 1073.0V1080.2M1419.0 1073.5V1087.4M1420.0 959.8V1024.5M1420.0 1074.9V1078.9M1421.0 1013.5V1025.0M1421.0 1076.2V1080.3M1422.0 1022.7V1025.5M1422.0 1077.6V1088.4M1423.0 1079.0V1088.5M1424.0 1080.3V1085.8M1425.0 957.0V1027.4M1425.0 1081.6V1087.5M1426.0 1025.3V1028.6M1427.0 1022.9V1029.9M1427.0 1084.2V1097.2M1428.0 1085.6V1095.6M1429.0 980.3V1032.4M1429.0 1086.9V1092.5M1430.0 1024.3V1033.6M1431.0 1089.4V1101.0M1432.0 1090.5V1100.4M1433.0 1035.9V1038.5M1434.0 976.6V1040.3M1434.0 1092.9V1097.5M1435.0 1032.0V1042.1M1436.0 1035.7V1043.9M1436.0 1097.3V1111.0M1437.0 1101.4V1115.1M1438.0 1105.6V1114.4M1439.0 992.2V1066.3M1439.0 1109.7V1114.5M1440.0 1061.2V1074.4M1440.0 1113.8V1124.2M1441.0 1070.8V1082.4M1441.0 1116.2V1123.4M1442.0 1074.3V1076.6M1442.0 1112.2V1124.3M1443.0 1020.4V1068.9M1444.0 1053.4V1061.2M1444.0 1091.9V1096.0M1445.0 1048.2V1053.5M1445.0 1081.8V1091.5M1446.0 1071.7V1077.4M1448.0 936.2V1006.8M1449.0 980.2V987.8M1450.0 960.2V969.6M1450.0 1005.3V1013.7M1451.0 987.9V994.0M1452.0 886.4V947.9M1452.0 980.3V984.3M1453.0 924.3V937.0M1454.0 926.8V933.9M1454.0 965.6V977.6M1455.0 969.7V981.6M1456.0 938.7V940.8M1457.0 897.2V944.9M1457.0 978.0V983.1M1458.0 943.4V949.0M1459.0 950.2V955.4M1459.0 997.7V1010.1M1460.0 1011.4V1023.1M1461.0 1025.1V1029.5M1462.0 929.6V1001.1M1463.0 1002.8V1014.8M1464.0 1011.6V1022.3M1464.0 1054.6V1061.9M1465.0 1063.1V1074.6M1467.0 993.3V1044.9M1468.0 1044.4V1052.5M1468.0 1084.0V1089.2M1469.0 1045.6V1056.0M1469.0 1087.5V1098.5M1470.0 1091.1V1098.8M1471.0 1094.6V1099.2M1472.0 1007.5V1065.5M1473.0 1058.1V1068.6M1474.0 1067.7V1070.6M1474.0 1101.7V1110.4M1475.0 1103.1V1113.8M1476.0 1010.8V1072.9M1476.0 1104.5V1109.4M1477.0 1069.9V1074.1M1478.0 1065.5V1075.2M1478.0 1107.2V1118.4M1479.0 1108.6V1118.7M1480.0 1032.9V1076.4M1480.0 1108.6V1114.0M1481.0 1070.8V1075.3M1482.0 1064.6V1074.1M1482.0 1101.8V1108.9M1483.0 983.8V1073.0M1484.0 1039.2V1055.6M1485.0 1035.4V1038.3M1485.0 1079.5V1086.5M1486.0 1063.9V1070.7M1487.0 1001.8V1004.4M1487.0 1048.3V1053.2M1488.0 933.7V995.6M1488.0 1033.4V1037.5M1489.0 974.2V986.9M1490.0 970.2V978.1M1490.0 1017.1V1029.8M1491.0 1008.9V1022.0M1493.0 907.1V959.3M1494.0 942.9V963.6M1494.0 1002.9V1007.8M1495.0 959.2V969.6M1495.0 1009.6V1019.2M1496.0 972.4V975.5M1496.0 1016.3V1025.7M1497.0 916.2V981.5M1497.0 1022.9V1027.4M1498.0 975.5V987.4M1498.0 1029.5V1035.7M1499.0 987.7V993.2M1499.0 1035.9V1046.5M1500.0 1042.4V1051.0M1501.0 941.0V1004.2M1501.0 1048.8V1053.9M1502.0 1002.4V1009.8M1502.0 1055.3V1059.6M1503.0 1001.8V1015.3M1503.0 1061.4V1072.3M1504.0 1066.1V1080.1M1505.0 1070.8V1075.3M1506.0 962.4V1032.1M1506.0 1075.5V1081.4M1507.0 1022.7V1037.8M1507.0 1080.1V1084.5M1508.0 1037.6V1043.4M1508.0 1084.8V1096.9M1509.0 1089.5V1099.2M1511.0 987.4V1051.8M1512.0 1031.9V1048.5M1513.0 1035.6V1045.3M1513.0 1085.7V1101.3M1514.0 1083.5V1100.6M1515.0 983.3V1038.6M1516.0 1028.7V1034.7M1516.0 1077.9V1083.9M1517.0 1022.7V1030.8M1517.0 1071.7V1082.5M1518.0 1024.9V1027.0M1518.0 1065.6V1079.6M1519.0 963.8V1023.1M1519.0 1059.4V1063.9M1520.0 1004.5V1019.2M1521.0 1004.4V1015.3M1521.0 1047.0V1057.4M1522.0 1040.9V1052.3M1524.0 915.9V985.3M1525.0 971.6V974.7M1525.0 1011.1V1015.5M1526.0 1000.8V1010.8M1527.0 998.6V1012.0M1528.0 999.1V1003.5M1529.0 895.3V964.5M1530.0 944.4V964.0M1531.0 964.1V968.2M1531.0 1011.3V1025.0M1532.0 1018.0V1034.5M1533.0 919.0V980.4M1533.0 1024.7V1030.2M1534.0 975.6V986.5M1534.0 1031.5V1036.7M1535.0 989.3V992.6M1535.0 1035.3V1046.8M1536.0 1033.2V1051.2M1537.0 878.9V988.1M1537.0 1027.3V1034.8M1538.0 968.8V984.7M1539.0 974.9V981.4M1539.0 1015.6V1029.0M1540.0 1009.7V1038.0M1542.0 879.6V975.6M1543.0 968.4V974.3M1544.0 961.8V973.1M1544.0 1002.0V1018.5M1545.0 1001.3V1014.9M1547.0 895.6V969.5M1547.0 1000.1V1004.8M1548.0 946.5V967.4M1548.0 999.5V1004.0M1549.0 951.3V961.8M1549.0 999.0V1006.5M1550.0 953.2V956.3M1550.0 999.0V1015.3M1551.0 865.2V950.7M1551.0 999.0V1003.2M1552.0 926.3V945.2M1552.0 999.0V1006.7M1553.0 937.6V942.0M1553.0 1000.8V1023.0M1554.0 1005.2V1020.1M1555.0 854.8V952.3M1555.0 1009.7V1015.9M1556.0 954.6V959.8M1557.0 959.8V967.3M1557.0 1018.6V1025.3M1558.0 1022.9V1034.3M1559.0 1027.3V1032.7M1561.0 921.8V989.7M1561.0 1036.0V1041.8M1562.0 979.4V994.7M1562.0 1040.3V1046.6M1563.0 996.2V999.6M1563.0 1044.7V1057.9M1564.0 1049.1V1058.9M1565.0 958.7V1009.4M1566.0 1001.1V1013.3M1567.0 1005.0V1010.9M1567.0 1053.1V1067.1M1568.0 1051.7V1065.9M1569.0 1050.2V1054.8M1570.0 928.4V1003.5M1571.0 980.9V1001.0M1572.0 988.5V998.6M1572.0 1045.9V1063.1M1573.0 1044.4V1058.5M1574.0 1043.0V1047.3M1575.0 890.8V991.2M1575.0 1041.5V1045.9M1576.0 964.6V988.7M1576.0 1040.1V1045.6M1577.0 978.2V986.3M1577.0 1038.6V1046.5M1578.0 894.3V984.4M1579.0 968.0V984.7M1579.0 1036.1V1040.7M1580.0 973.5V986.7M1580.0 1036.1V1048.1M1581.0 1036.2V1050.2M1583.0 926.5V992.5M1583.0 1036.2V1041.8M1584.0 980.8V994.5M1584.0 1036.3V1041.2M1585.0 990.9V996.4M1585.0 1036.3V1048.5M1586.0 1036.4V1051.1M1587.0 923.0V1000.4M1587.0 1036.4V1042.0M1588.0 995.1V1002.3M1588.0 1036.5V1041.0M1589.0 999.7V1004.3M1589.0 1036.5V1045.7M1590.0 1036.6V1051.8M1591.0 941.7V1006.4M1591.0 1036.6V1042.3M1592.0 995.3V1002.2M1592.0 1033.8V1039.6M1593.0 994.5V998.0M1593.0 1029.2V1044.0M1594.0 1024.6V1033.8M1595.0 944.1V989.6M1595.0 1020.0V1025.2M1596.0 967.9V985.4M1596.0 1015.4V1022.3M1597.0 977.8V981.2M1597.0 1010.8V1023.6M1598.0 1006.2V1016.9M1599.0 1001.6V1007.3M1601.0 908.5V964.4M1602.0 949.1V960.2M1603.0 948.7V956.0M1603.0 983.2V992.9M1604.0 979.4V997.2M1606.0 901.1V953.0M1607.0 933.7V952.0M1607.0 982.0V987.3M1608.0 947.3V951.0M1608.0 982.8V991.3M1609.0 983.7V992.6M1610.0 895.8V949.7M1611.0 933.4V951.6M1612.0 946.2V955.1M1612.0 990.2V1000.0M1613.0 992.6V1006.0M1614.0 905.7V961.9M1615.0 957.1V965.3M1616.0 965.4V968.7M1616.0 1000.0V1011.7M1617.0 1003.4V1011.9M1618.0 903.5V974.4M1618.0 1006.8V1011.8M1619.0 971.9V976.9M1620.0 977.2V979.4M1620.0 1013.5V1026.2M1621.0 979.3V981.9M1621.0 1016.9V1030.8M1623.0 936.1V986.9M1624.0 982.2V989.4M1625.0 981.1V991.9M1625.0 1030.4V1039.6M1626.0 1033.8V1048.1M1628.0 954.2V999.4M1629.0 991.4V1001.9M1630.0 996.9V1004.6M1630.0 1042.2V1052.5M1631.0 1042.6V1053.5M1632.0 968.7V1010.1M1633.0 1000.0V1012.8M1634.0 1004.0V1015.6M1634.0 1043.8V1057.5M1635.0 954.1V1016.8M1635.0 1044.0V1049.1M1636.0 999.0V1008.9M1637.0 987.9V1001.0M1637.0 1038.4V1049.2M1638.0 919.9V993.1M1638.0 1034.5V1039.3M1639.0 971.3V985.2M1640.0 970.1V977.3M1640.0 1026.5V1035.3M1641.0 913.7V970.5M1642.0 957.4V970.5M1642.0 1019.9V1024.0M1643.0 963.3V973.3M1643.0 1020.7V1034.3M1644.0 1021.5V1033.5M1646.0 929.4V981.9M1647.0 982.1V984.8M1648.0 984.5V987.7M1648.0 1024.6V1032.0M1649.0 1025.4V1039.3M1650.0 942.4V993.4M1650.0 1026.2V1030.8M1651.0 982.5V996.3M1652.0 990.6V999.1M1652.0 1027.8V1037.3M1653.0 1028.6V1036.9M1655.0 918.7V1002.1M1656.0 979.0V999.3M1656.0 1028.2V1034.0M1657.0 982.7V996.4M1657.0 1027.7V1044.4M1658.0 1027.1V1044.4M1660.0 900.0V988.0M1661.0 967.8V985.2M1662.0 965.0V982.4M1662.0 1025.0V1044.3M1663.0 1024.4V1040.7M1664.0 891.3V979.9M1665.0 967.2V979.6M1665.0 1023.3V1028.0M1666.0 975.3V979.4M1666.0 1022.7V1043.2M1667.0 1022.1V1040.0M1669.0 865.4V978.8M1670.0 945.0V978.6M1670.0 1020.3V1028.3M1671.0 970.2V978.4M1671.0 1019.7V1040.2M1672.0 1019.1V1038.7M1673.0 1018.7V1023.0M1674.0 975.7V978.0M1675.0 884.9V977.9M1676.0 942.0V977.8M1676.0 1017.7V1025.0M1677.0 962.2V977.7M1677.0 1017.3V1030.8M1678.0 1017.0V1031.5M1679.0 890.1V977.5M1679.0 1016.6V1021.6M1680.0 962.3V977.8M1680.0 1016.2V1021.9M1681.0 967.6V978.9M1681.0 1015.6V1030.1M1682.0 1015.0V1026.2M1683.0 1014.5V1020.9M1684.0 921.3V982.2M1685.0 971.2V983.3M1685.0 1013.3V1019.9M1686.0 976.1V984.3M1686.0 1012.7V1027.0M1687.0 1012.1V1031.1M1690.0 941.2V988.7M1691.0 975.1V989.8M1691.0 1009.8V1016.9M1692.0 983.1V990.9M1692.0 1009.2V1019.7M1693.0 1008.4V1023.9M1694.0 1007.6V1014.3M1695.0 938.7V990.2M1696.0 1005.9V1013.8M1697.0 983.1V989.6M1697.0 1005.1V1028.0M1698.0 1004.3V1027.4M1700.0 1003.8V1011.4M1701.0 888.0V980.7M1701.0 1003.8V1012.4M1702.0 963.5V978.2M1702.0 1003.8V1010.0M1703.0 960.1V975.6M1703.0 1003.8V1015.9M1704.0 1003.8V1017.7M1705.0 868.1V970.5M1706.0 949.8V967.9M1707.0 959.6V965.4M1707.0 1003.8V1009.8M1708.0 1007.0V1013.0M1710.0 858.4V963.9M1711.0 933.1V963.5M1712.0 947.9V963.2M1712.0 1023.3V1030.6M1713.0 1027.4V1034.7M1715.0 858.6V962.2M1716.0 955.9V961.8M1717.0 950.2V961.6M1717.0 1041.6V1048.7M1718.0 958.1V961.6M1718.0 1041.6V1053.2M1719.0 866.2V961.6M1720.0 933.5V961.6M1721.0 953.5V963.0M1721.0 1036.4V1044.3M1722.0 961.6V964.5M1722.0 1031.3V1041.7M1723.0 1026.1V1030.2M1724.0 1021.0V1025.5M1725.0 902.0V968.7M1726.0 947.8V970.1M1727.0 966.3V971.5M1727.0 1005.5V1016.9M1728.0 1000.3V1008.3M1729.0 995.2V999.7M1730.0 906.2V968.8M1731.0 948.3V959.7M1732.0 982.4V990.3M1733.0 978.8V988.3M1735.0 871.2V923.3M1736.0 898.4V918.1M1737.0 908.6V916.8M1737.0 966.0V972.9M1738.0 966.0V976.4M1740.0 863.6V912.9M1741.0 892.2V911.6M1742.0 906.8V910.7M1742.0 966.3V973.8M1743.0 968.1V979.4M1744.0 969.8V973.8M1745.0 848.9V924.0M1745.0 971.5V976.2M1746.0 921.8V930.0M1747.0 932.5V936.1M1747.0 975.0V984.7M1748.0 976.7V992.9M1749.0 878.3V948.3M1749.0 978.5V984.8M1750.0 951.7V954.3M1751.0 981.7V994.9M1752.0 983.3V999.3M1753.0 891.0V950.2M1754.0 932.5V948.6M1754.0 986.5V992.0M1755.0 943.1V947.0M1755.0 988.1V999.8M1756.0 989.8V996.4M1757.0 940.8V943.9M1758.0 874.8V943.1M1759.0 916.5V942.3M1760.0 937.9V941.5M1760.0 991.2V999.6M1761.0 938.4V940.7M1761.0 991.2V1005.2M1762.0 991.2V997.5M1763.0 852.5V939.1M1763.0 991.2V997.9M1764.0 930.9V938.3M1765.0 927.7V937.5M1765.0 991.2V1010.5M1766.0 991.2V1011.7M1767.0 933.2V935.9M1768.0 991.2V997.0M1769.0 851.1V937.8M1769.0 991.2V995.8M1770.0 912.3V939.8M1770.0 991.2V997.2M1771.0 933.2V941.7M1771.0 991.2V1002.0M1772.0 991.2V1009.3M1773.0 991.2V997.9M1774.0 866.4V947.6M1775.0 937.1V949.5M1776.0 948.2V951.5M1776.0 991.2V1005.8M1777.0 896.0V953.4M1777.0 991.2V996.0M1778.0 943.0V955.4M1779.0 953.0V957.3M1779.0 991.2V1006.2M1780.0 991.2V1001.2M1781.0 914.8V958.2M1781.0 991.1V996.3M1782.0 954.1V956.5M1783.0 990.4V1000.6M1784.0 951.0V953.3M1784.0 990.1V1002.3M1787.0 857.0V948.4M1788.0 921.8V946.8M1788.0 988.8V994.8M1789.0 935.4V945.1M1789.0 988.4V999.4M1790.0 988.1V1003.2M1792.0 836.1V940.3M1793.0 918.9V939.6M1794.0 925.4V939.7M1794.0 986.8V1002.3M1795.0 986.6V999.9M1798.0 866.5V940.3M1799.0 929.1V940.4M1800.0 938.5V940.5M1800.0 985.3V999.8M1801.0 857.9V940.7M1802.0 916.6V940.8M1802.0 984.8V990.4M1803.0 932.5V941.0M1803.0 984.5V999.6M1804.0 984.3V995.2M1806.0 864.4V941.4M1806.0 986.1V991.7M1807.0 927.4V943.5M1808.0 936.6V946.1M1808.0 992.1V1005.4M1809.0 995.1V1006.1M1811.0 887.8V954.0M1812.0 940.8V956.6M1813.0 953.4V959.2M1813.0 1007.1V1019.2M1814.0 1010.1V1022.2M1815.0 961.8V964.4M1815.0 1013.1V1017.4M1816.0 919.4V967.0M1817.0 967.0V969.7M1818.0 966.2V972.3M1818.0 1021.4V1029.5M1819.0 971.7V974.4M1819.0 1021.3V1028.0M1820.0 931.5V974.7M1821.0 960.6V975.0M1822.0 967.5V975.3M1822.0 1018.3V1030.3M1823.0 1017.3V1025.4M1824.0 973.7V975.9M1824.0 1016.3V1020.4M1825.0 940.8V976.2M1825.0 1015.3V1020.2M1826.0 967.4V976.5M1826.0 1014.4V1019.4M1827.0 972.9V976.8M1827.0 1013.4V1022.5M1828.0 1012.4V1019.7M1830.0 912.7V977.8M1831.0 946.7V971.8M1832.0 958.4V961.1M1832.0 1001.8V1015.2M1833.0 989.8V1001.0M1834.0 977.8V984.1M1835.0 840.7V928.9M1836.0 900.2V918.2M1837.0 903.7V908.4M1837.0 941.7V955.6M1838.0 898.3V900.6M1838.0 930.6V944.2M1839.0 814.6V892.9M1840.0 875.8V885.1M1840.0 912.8V917.3M1841.0 875.0V877.3M1841.0 903.9V917.0M1842.0 895.0V910.5M1843.0 886.1V891.5M1844.0 800.0V854.0M1845.0 833.3V846.2M1846.0 840.4V842.5M1846.0 859.4V868.6M1847.0 860.5V870.6M1848.0 794.5V845.8M1848.0 864.1V868.4M1849.0 840.7V848.2M1849.0 867.8V872.2M1850.0 871.5V880.9M1851.0 875.1V886.5M1853.0 801.0V857.6M1853.0 882.4V888.1M1854.0 842.7V860.0M1855.0 855.1V863.7M1855.0 892.3V899.9M1856.0 865.2V867.6M1856.0 897.3V912.3M1857.0 902.2V906.9M1858.0 907.2V911.6M1859.0 817.9V879.3M1860.0 864.1V883.2M1861.0 879.5V887.1M1861.0 921.2V937.3M1862.0 888.3V890.7M1862.0 922.9V934.7M1863.0 846.3V893.5M1863.0 924.6V929.2M1864.0 879.3V896.3M1864.0 926.2V932.6M1865.0 890.9V899.1M1865.0 927.9V938.8M1866.0 929.6V938.9M1867.0 931.3V938.4M1868.0 933.0V939.7M1869.0 867.3V910.2M1869.0 934.3V939.9M1870.0 902.6V911.1M1871.0 905.5V911.5M1871.0 936.8V948.0M1872.0 938.0V952.1M1873.0 857.6V912.4M1874.0 900.0V912.8M1874.0 940.5V946.7M1875.0 941.8V954.1M1876.0 943.0V952.9M1877.0 862.7V914.1M1877.0 944.3V948.9M1878.0 909.9V914.6M1878.0 945.5V950.0M1879.0 909.7V915.0M1879.0 949.4V957.7M1880.0 954.4V966.9M1881.0 959.3V963.5M1883.0 863.0V933.5M1884.0 930.0V938.5M1885.0 933.8V943.5M1885.0 979.2V991.8M1886.0 983.5V995.3M1888.0 895.7V948.2M1888.0 980.0V984.0M1889.0 938.5V945.9M1890.0 940.3V943.6M1890.0 973.3V980.8M1891.0 969.9V982.2M1893.0 892.0V936.8M1893.0 963.2V968.5M1894.0 924.9V935.3M1895.0 931.2V934.2M1895.0 958.5V969.0M1896.0 930.8V933.1M1896.0 958.5V967.1M1897.0 958.5V964.6M1898.0 887.9V930.9M1899.0 921.4V929.8M1900.0 926.3V928.8M1900.0 958.5V970.8M1901.0 958.5V972.9M1902.0 961.0V965.4M1903.0 880.3V929.4M1903.0 963.5V968.5M1904.0 916.4V931.1M1904.0 966.0V971.3M1905.0 930.6V932.7M1905.0 968.5V982.2M1906.0 932.3V934.4M1906.0 971.0V983.5M1907.0 973.5V977.5M1908.0 891.7V937.8M1909.0 932.2V939.5M1910.0 934.5V941.2M1910.0 981.0V989.1M1911.0 983.4V996.8M1913.0 988.5V993.7M1914.0 897.6V948.9M1915.0 943.7V951.0M1916.0 950.6V953.2M1916.0 996.0V1009.9M1917.0 998.5V1011.4M1918.0 917.2V957.6M1919.0 954.4V959.7M1920.0 953.3V961.9M1920.0 1006.0V1016.5M1921.0 1008.5V1022.0M1922.0 907.7V966.0M1923.0 959.5V965.1M1924.0 958.6V964.2M1924.0 1004.4V1019.7M1925.0 1001.9V1009.4M1926.0 999.4V1005.0M1927.0 918.0V961.5M1928.0 957.5V960.6M1929.0 952.6V959.8M1929.0 991.8V1004.9M1930.0 956.3V958.9M1930.0 989.3V997.5M1931.0 914.5V958.0M1931.0 986.7V992.3M1932.0 944.0V954.6M1933.0 981.0V990.7M1934.0 977.7V990.4M1935.0 885.5V942.7M1935.0 974.4V980.0M1936.0 923.6V938.8M1937.0 928.1V934.8M1937.0 967.8V984.2M1938.0 964.5V974.3M1939.0 881.0V927.7M1939.0 961.2V967.3M1940.0 925.6V927.7M1940.0 958.5V962.5M1941.0 923.1V927.7M1941.0 958.5V975.7M1942.0 958.5V973.8M1944.0 958.5V962.6M1945.0 877.8V927.7M1946.0 921.6V927.7M1947.0 958.5V978.5M1948.0 958.5V975.3M1949.0 958.5V965.6M1950.0 958.5V964.3M1951.0 884.8V927.7M1951.0 958.5V963.0M1952.0 909.8V927.7M1953.0 920.2V927.7M1953.0 958.5V969.9M1954.0 958.5V969.6M1955.0 883.4V927.7M1955.0 958.3V964.1M1956.0 921.7V928.2M1956.0 956.7V962.1M1957.0 955.0V971.3M1958.0 953.4V965.3M1960.0 886.4V930.3M1961.0 927.0V930.8M1961.0 948.4V954.1M1962.0 918.0V927.4M1962.0 946.7V961.0M1963.0 943.4V952.1M1964.0 938.3V944.2M1965.0 835.0V902.4M1965.0 933.3V939.1M1966.0 882.9V894.0M1967.0 883.8V889.6M1967.0 923.2V930.7M1968.0 919.9V928.2M1969.0 918.2V923.1M1970.0 845.0V887.8M1970.0 916.5V922.3M1971.0 880.0V887.2M1971.0 914.9V919.2M1972.0 880.0V886.7M1972.0 913.2V922.9M1973.0 883.9V886.1M1973.0 911.5V923.3M1974.0 846.8V885.5M1974.0 909.8V914.8M1975.0 881.4V883.9M1975.0 908.2V913.2M1976.0 877.5V882.3M1976.0 906.5V921.2M1977.0 904.9V921.3M1979.0 846.7V877.3M1980.0 899.9V904.2M1981.0 868.9V874.0M1981.0 898.3V906.5M1982.0 896.7V907.2M1983.0 846.1V872.5M1984.0 869.1V872.1M1985.0 867.6V871.8M1985.0 892.0V904.4M1986.0 890.5V900.4" stroke="#f00" stroke-width="2"/>
<g stroke="#f00"><line x1="557.0" y1="238.0" x2="557.0" y2="477.0" stroke-width="1.5"/><line x1="644.0" y1="194.8" x2="644.0" y2="280.0" stroke-width="1.5"/><line x1="709.0" y1="138.3" x2="709.0" y2="260.0" stroke-width="1.5"/><line x1="720.5" y1="240.0" x2="720.5" y2="307.7" stroke-width="1.5"/><line x1="772.3" y1="202.9" x2="772.3" y2="250.0" stroke-width="1.2"/><line x1="974.5" y1="175.0" x2="974.5" y2="254.0" stroke-width="1.5"/><line x1="982.7" y1="190.0" x2="982.7" y2="216.8" stroke-width="1.5"/><line x1="1001.7" y1="49.4" x2="1001.7" y2="278.3" stroke-width="1.6"/><line x1="1028.0" y1="125.0" x2="1028.0" y2="180.0" stroke-width="1.2"/><line x1="1040.3" y1="77.7" x2="1040.3" y2="180.0" stroke-width="1.2"/><line x1="1056.7" y1="180.0" x2="1056.7" y2="196.7" stroke-width="1.2"/><line x1="1095.6" y1="128.0" x2="1095.6" y2="170.0" stroke-width="1.2"/><line x1="1539.0" y1="766.5" x2="1539.0" y2="1000.0" stroke-width="1.5"/><line x1="1663.3" y1="816.9" x2="1663.3" y2="990.0" stroke-width="1.5"/><line x1="1707.7" y1="776.6" x2="1707.7" y2="990.0" stroke-width="1.5"/><line x1="1742.3" y1="794.2" x2="1742.3" y2="960.0" stroke-width="1.5"/><line x1="1823.4" y1="793.1" x2="1823.4" y2="1000.0" stroke-width="1.5"/><line x1="1945.6" y1="737.6" x2="1945.6" y2="1000.0" stroke-width="1.5"/></g>
</g>
<rect x="264" y="16.6" width="1722.8" height="1348.8" fill="none" stroke="#000" stroke-width="4"/>
<path d="M240 1365.4H264M252 1261.6H264M264.0 1365.4V1391.5M388.8 1365.4V1379.2M240 1157.9H264M252 1054.1H264M513.5 1365.4V1391.5M638.2 1365.4V1379.2M240 950.4H264M252 846.6H264M763.0 1365.4V1391.5M887.8 1365.4V1379.2M240 742.9H264M252 639.1H264M1012.5 1365.4V1391.5M1137.2 1365.4V1379.2M240 535.4H264M252 431.6H264M1262.0 1365.4V1391.5M1386.8 1365.4V1379.2M240 327.9H264M252 224.1H264M1511.5 1365.4V1391.5M1636.2 1365.4V1379.2M240 120.4H264M252 16.6H264M1761.0 1365.4V1391.5M1885.8 1365.4V1379.2M1962.4 185.3H1986.8M1962.4 522.4H1986.8M1962.4 859.5H1986.8M1962.4 1196.6H1986.8M1974.5 353.9H1986.8M1974.5 691.0H1986.8M1974.5 1028.0H1986.8" stroke="#000" stroke-width="4" fill="none"/>
<g class="tl" font-size="56"><text transform="translate(222.0 1381.6) scale(1 1.041)" text-anchor="end">1.2</text><text transform="translate(222.0 1174.1) scale(1 1.041)" text-anchor="end">1.4</text><text transform="translate(222.0 966.6) scale(1 1.041)" text-anchor="end">1.6</text><text transform="translate(222.0 759.1) scale(1 1.041)" text-anchor="end">1.8</text><text transform="translate(222.0 551.6) scale(1 1.041)" text-anchor="end">2.0</text><text transform="translate(222.0 344.1) scale(1 1.041)" text-anchor="end">2.2</text><text transform="translate(222.0 136.6) scale(1 1.041)" text-anchor="end">2.4</text><text transform="translate(265.0 1450.4) scale(1 1.041)" text-anchor="middle">0</text><text transform="translate(514.5 1450.4) scale(1 1.041)" text-anchor="middle">50</text><text transform="translate(764.0 1450.4) scale(1 1.041)" text-anchor="middle">100</text><text transform="translate(1013.5 1450.4) scale(1 1.041)" text-anchor="middle">150</text><text transform="translate(1263.0 1450.4) scale(1 1.041)" text-anchor="middle">200</text><text transform="translate(1512.5 1450.4) scale(1 1.041)" text-anchor="middle">250</text><text transform="translate(1762.0 1450.4) scale(1 1.041)" text-anchor="middle">300</text><text transform="translate(2015.0 201.7) scale(1 1.041)">0.092</text><text transform="translate(2015.0 538.8) scale(1 1.041)">0.096</text><text transform="translate(2015.0 875.9) scale(1 1.041)">0.100</text><text transform="translate(2015.0 1213.0) scale(1 1.041)">0.104</text></g>
<g font-size="68">
<text transform="translate(1126.6 1553.9) scale(1 1.041)" text-anchor="middle">Time (s)</text>
<text transform="translate(69 648.4) rotate(-90) scale(1 1.041)" text-anchor="middle">Amplitude (V)</text>
<g transform="translate(2246.2 881.9) rotate(-90) scale(1 1.041)">
<text x="0" y="0" font-style="italic">V</text>
<text x="41" y="24.5" font-style="italic" font-size="42">b</text>
<text x="66.7" y="0" xml:space="preserve"> (rel. units)</text>
</g>
<text transform="translate(1529.0 136.6) scale(1 1.041)">PPG signal</text>
<g transform="translate(1537.8 264.2) scale(1 1.041)">
<text x="0" y="0" font-style="italic">V</text>
<text x="43.3" y="24.1" font-style="italic" font-size="42">b</text>
</g>
</g>
<path d="M1361 114H1513" stroke="#000" stroke-width="4"/>
<path d="M1365 242H1517.4" stroke="#f00" stroke-width="4"/>
</svg>
</body></html>
